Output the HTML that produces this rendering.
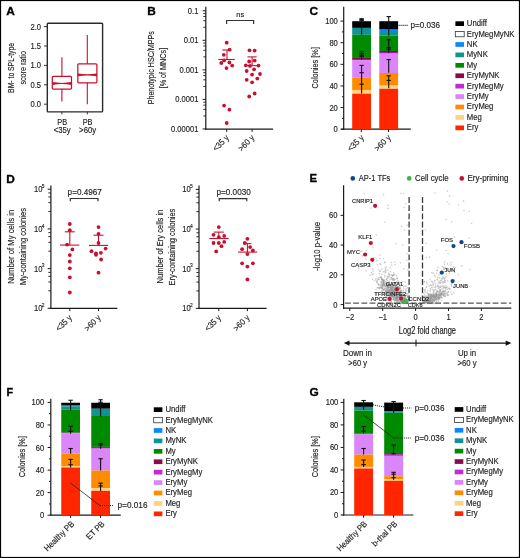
<!DOCTYPE html>
<html><head><meta charset="utf-8"><style>
html,body{margin:0;padding:0;background:#fff;}
svg{display:block;font-family:"Liberation Sans", sans-serif;will-change:transform;}
text{stroke:#222;stroke-width:0.15px;}
</style></head><body>
<svg width="520" height="558" viewBox="0 0 520 558">
<rect x="0" y="0" width="520" height="558" fill="#fff"/>
<text x="0" y="0" transform="translate(6.20 14.70) scale(1.1 1)" font-size="10.8" fill="#000" font-weight="bold" style="stroke:#000;stroke-width:0.3px">A</text>
<text x="0" y="0" transform="translate(147.30 14.70) scale(1.1 1)" font-size="10.8" fill="#000" font-weight="bold" style="stroke:#000;stroke-width:0.3px">B</text>
<text x="0" y="0" transform="translate(309.60 14.80) scale(1.1 1)" font-size="10.8" fill="#000" font-weight="bold" style="stroke:#000;stroke-width:0.3px">C</text>
<text x="0" y="0" transform="translate(6.30 183.20) scale(1.1 1)" font-size="10.8" fill="#000" font-weight="bold" style="stroke:#000;stroke-width:0.3px">D</text>
<text x="0" y="0" transform="translate(309.60 182.00) scale(1.05 1)" font-size="10.8" fill="#000" font-weight="bold" style="stroke:#000;stroke-width:0.3px">E</text>
<text x="0" y="0" transform="translate(6.60 396.00)" font-size="10.8" fill="#000" font-weight="bold" style="stroke:#000;stroke-width:0.3px">F</text>
<text x="0" y="0" transform="translate(309.60 396.10) scale(1.1 1)" font-size="10.8" fill="#000" font-weight="bold" style="stroke:#000;stroke-width:0.3px">G</text>
<rect x="47.3" y="23.3" width="55.3" height="88.6" rx="0.8" fill="none" stroke="#2a2a2a" stroke-width="1.4"/>
<line x1="44.00" y1="104.20" x2="47.30" y2="104.20" stroke="#333" stroke-width="1" />
<text x="0" y="0" transform="translate(41.00 107.20) scale(0.88 1)" font-size="8.6" fill="#222" text-anchor="end" >0.0</text>
<line x1="44.00" y1="84.80" x2="47.30" y2="84.80" stroke="#333" stroke-width="1" />
<text x="0" y="0" transform="translate(41.00 87.80) scale(0.88 1)" font-size="8.6" fill="#222" text-anchor="end" >0.5</text>
<line x1="44.00" y1="65.40" x2="47.30" y2="65.40" stroke="#333" stroke-width="1" />
<text x="0" y="0" transform="translate(41.00 68.40) scale(0.88 1)" font-size="8.6" fill="#222" text-anchor="end" >1.0</text>
<line x1="44.00" y1="46.00" x2="47.30" y2="46.00" stroke="#333" stroke-width="1" />
<text x="0" y="0" transform="translate(41.00 49.00) scale(0.88 1)" font-size="8.6" fill="#222" text-anchor="end" >1.5</text>
<line x1="44.00" y1="26.60" x2="47.30" y2="26.60" stroke="#333" stroke-width="1" />
<text x="0" y="0" transform="translate(41.00 29.60) scale(0.88 1)" font-size="8.6" fill="#222" text-anchor="end" >2.0</text>
<rect x="52.3" y="76.3" width="19.20" height="12.80" rx="1" fill="none" stroke="#c8102e" stroke-width="1.25"/>
<path d="M52.3,82.1 Q61.9,83.7 71.5,82.1 V84.9 Q61.9,83.3 52.3,84.9 Z" fill="#c8102e"/>
<line x1="61.90" y1="57.20" x2="61.90" y2="76.30" stroke="#c8102e" stroke-width="1.1" />
<line x1="61.90" y1="89.10" x2="61.90" y2="101.60" stroke="#c8102e" stroke-width="1.1" />
<rect x="77.8" y="63.8" width="19.10" height="19.00" rx="1" fill="none" stroke="#c8102e" stroke-width="1.25"/>
<path d="M77.8,73.5 Q87.35,75.10000000000001 96.9,73.5 V76.30000000000001 Q87.35,74.7 77.8,76.30000000000001 Z" fill="#c8102e"/>
<line x1="87.30" y1="35.00" x2="87.30" y2="63.80" stroke="#c8102e" stroke-width="1.1" />
<line x1="87.30" y1="82.80" x2="87.30" y2="104.20" stroke="#c8102e" stroke-width="1.1" />
<line x1="61.90" y1="111.90" x2="61.90" y2="114.40" stroke="#333" stroke-width="1" />
<line x1="87.30" y1="111.90" x2="87.30" y2="114.40" stroke="#333" stroke-width="1" />
<text x="0" y="0" transform="translate(62.20 124.60) scale(0.84 1)" font-size="8.8" fill="#222" text-anchor="middle" >PB</text>
<text x="0" y="0" transform="translate(87.60 124.60) scale(0.84 1)" font-size="8.8" fill="#222" text-anchor="middle" >PB</text>
<text x="0" y="0" transform="translate(62.20 133.30) scale(0.88 1)" font-size="8.8" fill="#222" text-anchor="middle" >&lt;35y</text>
<text x="0" y="0" transform="translate(87.60 133.30) scale(0.88 1)" font-size="8.8" fill="#222" text-anchor="middle" >&gt;60y</text>
<text x="0" y="0" transform="translate(14.10 67.90) rotate(-90)" font-size="8.8" fill="#222" text-anchor="middle" textLength="50.00" lengthAdjust="spacingAndGlyphs" >BM- to SPL-type</text>
<text x="0" y="0" transform="translate(25.90 67.80) rotate(-90)" font-size="8.8" fill="#222" text-anchor="middle" textLength="33.50" lengthAdjust="spacingAndGlyphs" >score ratio</text>
<line x1="205.80" y1="6.70" x2="205.80" y2="129.70" stroke="#1a1a1a" stroke-width="1.2" />
<line x1="205.20" y1="129.10" x2="273.10" y2="129.10" stroke="#1a1a1a" stroke-width="1.2" />
<line x1="202.60" y1="10.75" x2="205.80" y2="10.75" stroke="#1a1a1a" stroke-width="1" />
<text x="0" y="0" transform="translate(198.40 13.75) scale(0.88 1)" font-size="8.6" fill="#222" text-anchor="end" >0.1</text>
<line x1="202.60" y1="40.30" x2="205.80" y2="40.30" stroke="#1a1a1a" stroke-width="1" />
<text x="0" y="0" transform="translate(198.40 43.30) scale(0.88 1)" font-size="8.6" fill="#222" text-anchor="end" >0.01</text>
<line x1="202.60" y1="69.85" x2="205.80" y2="69.85" stroke="#1a1a1a" stroke-width="1" />
<text x="0" y="0" transform="translate(198.40 72.85) scale(0.88 1)" font-size="8.6" fill="#222" text-anchor="end" >0.001</text>
<line x1="202.60" y1="99.40" x2="205.80" y2="99.40" stroke="#1a1a1a" stroke-width="1" />
<text x="0" y="0" transform="translate(198.40 102.40) scale(0.88 1)" font-size="8.6" fill="#222" text-anchor="end" >0.0001</text>
<line x1="202.60" y1="128.95" x2="205.80" y2="128.95" stroke="#1a1a1a" stroke-width="1" />
<text x="0" y="0" transform="translate(198.40 131.95) scale(0.88 1)" font-size="8.6" fill="#222" text-anchor="end" >0.00001</text>
<line x1="203.30" y1="13.56" x2="205.80" y2="13.56" stroke="#1a1a1a" stroke-width="0.9" />
<line x1="203.30" y1="16.48" x2="205.80" y2="16.48" stroke="#1a1a1a" stroke-width="0.9" />
<line x1="203.30" y1="20.74" x2="205.80" y2="20.74" stroke="#1a1a1a" stroke-width="0.9" />
<line x1="203.30" y1="27.30" x2="205.80" y2="27.30" stroke="#1a1a1a" stroke-width="0.9" />
<line x1="203.30" y1="43.11" x2="205.80" y2="43.11" stroke="#1a1a1a" stroke-width="0.9" />
<line x1="203.30" y1="46.03" x2="205.80" y2="46.03" stroke="#1a1a1a" stroke-width="0.9" />
<line x1="203.30" y1="50.29" x2="205.80" y2="50.29" stroke="#1a1a1a" stroke-width="0.9" />
<line x1="203.30" y1="56.85" x2="205.80" y2="56.85" stroke="#1a1a1a" stroke-width="0.9" />
<line x1="203.30" y1="72.66" x2="205.80" y2="72.66" stroke="#1a1a1a" stroke-width="0.9" />
<line x1="203.30" y1="75.58" x2="205.80" y2="75.58" stroke="#1a1a1a" stroke-width="0.9" />
<line x1="203.30" y1="79.84" x2="205.80" y2="79.84" stroke="#1a1a1a" stroke-width="0.9" />
<line x1="203.30" y1="86.40" x2="205.80" y2="86.40" stroke="#1a1a1a" stroke-width="0.9" />
<line x1="203.30" y1="102.21" x2="205.80" y2="102.21" stroke="#1a1a1a" stroke-width="0.9" />
<line x1="203.30" y1="105.13" x2="205.80" y2="105.13" stroke="#1a1a1a" stroke-width="0.9" />
<line x1="203.30" y1="109.39" x2="205.80" y2="109.39" stroke="#1a1a1a" stroke-width="0.9" />
<line x1="203.30" y1="115.95" x2="205.80" y2="115.95" stroke="#1a1a1a" stroke-width="0.9" />
<circle cx="226.70" cy="42.70" r="1.9" fill="#c8102e"/>
<circle cx="229.60" cy="49.65" r="1.9" fill="#c8102e"/>
<circle cx="223.80" cy="54.85" r="1.9" fill="#c8102e"/>
<circle cx="224.10" cy="60.40" r="1.9" fill="#c8102e"/>
<circle cx="221.30" cy="63.00" r="1.9" fill="#c8102e"/>
<circle cx="229.40" cy="62.50" r="1.9" fill="#c8102e"/>
<circle cx="232.20" cy="65.60" r="1.9" fill="#c8102e"/>
<circle cx="226.50" cy="68.10" r="1.9" fill="#c8102e"/>
<circle cx="224.10" cy="105.60" r="1.9" fill="#c8102e"/>
<circle cx="229.40" cy="109.65" r="1.9" fill="#c8102e"/>
<circle cx="226.70" cy="123.00" r="1.9" fill="#c8102e"/>
<circle cx="249.50" cy="50.30" r="1.9" fill="#c8102e"/>
<circle cx="254.65" cy="50.60" r="1.9" fill="#c8102e"/>
<circle cx="249.20" cy="61.50" r="1.9" fill="#c8102e"/>
<circle cx="254.65" cy="60.60" r="1.9" fill="#c8102e"/>
<circle cx="245.80" cy="65.30" r="1.9" fill="#c8102e"/>
<circle cx="250.00" cy="65.90" r="1.9" fill="#c8102e"/>
<circle cx="258.50" cy="65.60" r="1.9" fill="#c8102e"/>
<circle cx="254.10" cy="69.30" r="1.9" fill="#c8102e"/>
<circle cx="246.70" cy="71.00" r="1.9" fill="#c8102e"/>
<circle cx="252.10" cy="74.60" r="1.9" fill="#c8102e"/>
<circle cx="260.00" cy="74.00" r="1.9" fill="#c8102e"/>
<circle cx="246.70" cy="79.80" r="1.9" fill="#c8102e"/>
<circle cx="257.30" cy="78.60" r="1.9" fill="#c8102e"/>
<circle cx="252.10" cy="82.30" r="1.9" fill="#c8102e"/>
<circle cx="254.65" cy="93.50" r="1.9" fill="#c8102e"/>
<circle cx="249.20" cy="96.50" r="1.9" fill="#c8102e"/>
<line x1="218.30" y1="59.50" x2="234.80" y2="59.50" stroke="#c8102e" stroke-width="1.1" />
<line x1="227.00" y1="50.00" x2="227.00" y2="59.50" stroke="#c8102e" stroke-width="1.1" />
<line x1="222.30" y1="50.00" x2="231.30" y2="50.00" stroke="#c8102e" stroke-width="1.1" />
<line x1="247.20" y1="65.60" x2="258.20" y2="65.60" stroke="#c8102e" stroke-width="1.1" />
<line x1="252.10" y1="56.90" x2="252.10" y2="65.60" stroke="#c8102e" stroke-width="1.1" />
<line x1="247.50" y1="56.90" x2="256.70" y2="56.90" stroke="#c8102e" stroke-width="1.1" />
<path d="M226.6,24 V20.5 H253.6 V24" fill="none" stroke="#333" stroke-width="1.2"/>
<text x="0" y="0" transform="translate(240.20 16.90) scale(0.95 1)" font-size="7.9" fill="#222" text-anchor="middle" >ns</text>
<line x1="226.70" y1="129.10" x2="226.70" y2="131.90" stroke="#1a1a1a" stroke-width="1" />
<line x1="252.10" y1="129.10" x2="252.10" y2="131.90" stroke="#1a1a1a" stroke-width="1" />
<text x="0" y="0" transform="translate(229.60 138.30) rotate(-45) scale(0.9 1)" font-size="8.6" fill="#222" text-anchor="end" >&lt;35 y</text>
<text x="0" y="0" transform="translate(255.00 138.30) rotate(-45) scale(0.9 1)" font-size="8.6" fill="#222" text-anchor="end" >&gt;60 y</text>
<text x="0" y="0" transform="translate(154.00 67.80) rotate(-90)" font-size="8.8" fill="#222" text-anchor="middle" textLength="73.00" lengthAdjust="spacingAndGlyphs" >Phenotypic HSC/MPPs</text>
<text x="0" y="0" transform="translate(165.80 68.10) rotate(-90)" font-size="8.8" fill="#222" text-anchor="middle" textLength="40.50" lengthAdjust="spacingAndGlyphs" >[% of MNCs]</text>
<line x1="343.70" y1="6.70" x2="343.70" y2="129.80" stroke="#1a1a1a" stroke-width="1.2" />
<line x1="341.30" y1="129.20" x2="410.80" y2="129.20" stroke="#1a1a1a" stroke-width="1.2" />
<line x1="340.50" y1="129.20" x2="343.70" y2="129.20" stroke="#1a1a1a" stroke-width="1" />
<text x="0" y="0" transform="translate(337.80 132.20) scale(0.88 1)" font-size="8.6" fill="#222" text-anchor="end" >0</text>
<line x1="341.90" y1="118.39" x2="343.70" y2="118.39" stroke="#1a1a1a" stroke-width="1" />
<line x1="340.50" y1="107.58" x2="343.70" y2="107.58" stroke="#1a1a1a" stroke-width="1" />
<text x="0" y="0" transform="translate(337.80 110.58) scale(0.88 1)" font-size="8.6" fill="#222" text-anchor="end" >20</text>
<line x1="341.90" y1="96.77" x2="343.70" y2="96.77" stroke="#1a1a1a" stroke-width="1" />
<line x1="340.50" y1="85.96" x2="343.70" y2="85.96" stroke="#1a1a1a" stroke-width="1" />
<text x="0" y="0" transform="translate(337.80 88.96) scale(0.88 1)" font-size="8.6" fill="#222" text-anchor="end" >40</text>
<line x1="341.90" y1="75.15" x2="343.70" y2="75.15" stroke="#1a1a1a" stroke-width="1" />
<line x1="340.50" y1="64.34" x2="343.70" y2="64.34" stroke="#1a1a1a" stroke-width="1" />
<text x="0" y="0" transform="translate(337.80 67.34) scale(0.88 1)" font-size="8.6" fill="#222" text-anchor="end" >60</text>
<line x1="341.90" y1="53.53" x2="343.70" y2="53.53" stroke="#1a1a1a" stroke-width="1" />
<line x1="340.50" y1="42.72" x2="343.70" y2="42.72" stroke="#1a1a1a" stroke-width="1" />
<text x="0" y="0" transform="translate(337.80 45.72) scale(0.88 1)" font-size="8.6" fill="#222" text-anchor="end" >80</text>
<line x1="341.90" y1="31.91" x2="343.70" y2="31.91" stroke="#1a1a1a" stroke-width="1" />
<line x1="340.50" y1="21.10" x2="343.70" y2="21.10" stroke="#1a1a1a" stroke-width="1" />
<text x="0" y="0" transform="translate(337.80 24.10) scale(0.88 1)" font-size="8.6" fill="#222" text-anchor="end" >100</text>
<rect x="352.20" y="21.20" width="18.80" height="6.70" fill="#000000" />
<rect x="352.20" y="27.90" width="18.80" height="6.90" fill="#0f9393" />
<rect x="352.20" y="34.80" width="18.80" height="23.10" fill="#008a00" />
<rect x="352.20" y="57.80" width="18.80" height="1.20" fill="#8b0a4f" />
<rect x="352.20" y="59.00" width="18.80" height="1.40" fill="#b010b8" />
<rect x="352.20" y="60.40" width="18.80" height="16.90" fill="#da85f8" />
<rect x="352.20" y="77.30" width="18.80" height="12.70" fill="#ff8c00" />
<rect x="352.20" y="90.00" width="18.80" height="3.70" fill="#ffd27f" />
<rect x="352.20" y="93.70" width="18.80" height="35.50" fill="#ff2600" />
<rect x="379.30" y="21.20" width="18.80" height="8.20" fill="#000000" />
<rect x="379.30" y="29.40" width="18.80" height="0.60" fill="#444" />
<rect x="379.30" y="30.00" width="18.80" height="1.00" fill="#0d87ff" />
<rect x="379.30" y="31.00" width="18.80" height="4.60" fill="#0f9393" />
<rect x="379.30" y="35.60" width="18.80" height="15.40" fill="#008a00" />
<rect x="379.30" y="51.00" width="18.80" height="1.00" fill="#8b0a4f" />
<rect x="379.30" y="52.00" width="18.80" height="1.60" fill="#b010b8" />
<rect x="379.30" y="53.60" width="18.80" height="19.40" fill="#da85f8" />
<rect x="379.30" y="73.00" width="18.80" height="12.60" fill="#ff8c00" />
<rect x="379.30" y="85.60" width="18.80" height="3.20" fill="#ffd27f" />
<rect x="379.30" y="88.80" width="18.80" height="40.40" fill="#ff2600" />
<line x1="361.60" y1="18.70" x2="361.60" y2="34.80" stroke="#111" stroke-width="1.1" />
<line x1="359.40" y1="18.70" x2="363.80" y2="18.70" stroke="#111" stroke-width="1.1" />
<line x1="359.40" y1="19.60" x2="363.80" y2="19.60" stroke="#111" stroke-width="1.1" />
<line x1="359.40" y1="20.40" x2="363.80" y2="20.40" stroke="#111" stroke-width="1.1" />
<line x1="361.60" y1="51.50" x2="361.60" y2="59.80" stroke="#111" stroke-width="1.1" />
<line x1="359.40" y1="51.50" x2="363.80" y2="51.50" stroke="#111" stroke-width="1.1" />
<line x1="359.40" y1="53.60" x2="363.80" y2="53.60" stroke="#111" stroke-width="1.1" />
<line x1="359.40" y1="55.30" x2="363.80" y2="55.30" stroke="#111" stroke-width="1.1" />
<line x1="359.40" y1="56.70" x2="363.80" y2="56.70" stroke="#111" stroke-width="1.1" />
<line x1="361.60" y1="65.40" x2="361.60" y2="93.50" stroke="#111" stroke-width="1.1" />
<line x1="359.40" y1="65.40" x2="363.80" y2="65.40" stroke="#111" stroke-width="1.1" />
<line x1="359.40" y1="72.70" x2="363.80" y2="72.70" stroke="#111" stroke-width="1.1" />
<line x1="359.40" y1="84.20" x2="363.80" y2="84.20" stroke="#111" stroke-width="1.1" />
<line x1="388.70" y1="16.60" x2="388.70" y2="35.60" stroke="#111" stroke-width="1.1" />
<line x1="386.50" y1="16.60" x2="390.90" y2="16.60" stroke="#111" stroke-width="1.1" />
<line x1="388.70" y1="39.80" x2="388.70" y2="52.70" stroke="#111" stroke-width="1.1" />
<line x1="386.50" y1="39.80" x2="390.90" y2="39.80" stroke="#111" stroke-width="1.1" />
<line x1="386.50" y1="47.50" x2="390.90" y2="47.50" stroke="#111" stroke-width="1.1" />
<line x1="386.50" y1="49.20" x2="390.90" y2="49.20" stroke="#111" stroke-width="1.1" />
<line x1="388.70" y1="59.60" x2="388.70" y2="72.70" stroke="#111" stroke-width="1.1" />
<line x1="386.50" y1="59.60" x2="390.90" y2="59.60" stroke="#111" stroke-width="1.1" />
<line x1="388.70" y1="75.80" x2="388.70" y2="88.30" stroke="#111" stroke-width="1.1" />
<line x1="386.50" y1="75.80" x2="390.90" y2="75.80" stroke="#111" stroke-width="1.1" />
<line x1="386.50" y1="80.40" x2="390.90" y2="80.40" stroke="#111" stroke-width="1.1" />
<line x1="361.30" y1="129.20" x2="361.30" y2="132.00" stroke="#1a1a1a" stroke-width="1" />
<line x1="388.50" y1="129.20" x2="388.50" y2="132.00" stroke="#1a1a1a" stroke-width="1" />
<line x1="398.60" y1="25.40" x2="408.40" y2="25.40" stroke="#1a1a1a" stroke-width="1.1" stroke-dasharray="1,1"/>
<text x="0" y="0" transform="translate(410.40 28.30)" font-size="8.8" fill="#222" textLength="29.60" lengthAdjust="spacingAndGlyphs" >p=0.036</text>
<rect x="455.40" y="21.30" width="8.60" height="4.70" fill="#000000" />
<text x="0" y="0" transform="translate(466.80 26.10) scale(0.92 1)" font-size="8.4" fill="#222" >Undiff</text>
<rect x="455.30" y="31.57" width="8.9" height="5.2" fill="#fff" stroke="#333" stroke-width="0.8"/>
<text x="0" y="0" transform="translate(466.80 36.52) scale(0.92 1)" font-size="8.4" fill="#222" >EryMegMyNK</text>
<rect x="455.40" y="42.14" width="8.60" height="4.70" fill="#0d87ff" />
<text x="0" y="0" transform="translate(466.80 46.94) scale(0.92 1)" font-size="8.4" fill="#222" >NK</text>
<rect x="455.40" y="52.56" width="8.60" height="4.70" fill="#0f9393" />
<text x="0" y="0" transform="translate(466.80 57.36) scale(0.92 1)" font-size="8.4" fill="#222" >MyNK</text>
<rect x="455.40" y="62.98" width="8.60" height="4.70" fill="#008a00" />
<text x="0" y="0" transform="translate(466.80 67.78) scale(0.92 1)" font-size="8.4" fill="#222" >My</text>
<rect x="455.40" y="73.40" width="8.60" height="4.70" fill="#8b0a4f" />
<text x="0" y="0" transform="translate(466.80 78.20) scale(0.92 1)" font-size="8.4" fill="#222" >EryMyNK</text>
<rect x="455.40" y="83.82" width="8.60" height="4.70" fill="#c42ad4" />
<text x="0" y="0" transform="translate(466.80 88.62) scale(0.92 1)" font-size="8.4" fill="#222" >EryMegMy</text>
<rect x="455.40" y="94.24" width="8.60" height="4.70" fill="#da85f8" />
<text x="0" y="0" transform="translate(466.80 99.04) scale(0.92 1)" font-size="8.4" fill="#222" >EryMy</text>
<rect x="455.40" y="104.66" width="8.60" height="4.70" fill="#ff8c00" />
<text x="0" y="0" transform="translate(466.80 109.46) scale(0.92 1)" font-size="8.4" fill="#222" >EryMeg</text>
<rect x="455.40" y="115.08" width="8.60" height="4.70" fill="#ffd27f" />
<text x="0" y="0" transform="translate(466.80 119.88) scale(0.92 1)" font-size="8.4" fill="#222" >Meg</text>
<rect x="455.40" y="125.50" width="8.60" height="4.70" fill="#ff2600" />
<text x="0" y="0" transform="translate(466.80 130.30) scale(0.92 1)" font-size="8.4" fill="#222" >Ery</text>
<text x="0" y="0" transform="translate(317.60 67.80) rotate(-90)" font-size="9.2" fill="#222" text-anchor="middle" textLength="41.50" lengthAdjust="spacingAndGlyphs" >Colonies [%]</text>
<text x="0" y="0" transform="translate(364.40 138.30) rotate(-45) scale(0.9 1)" font-size="8.6" fill="#222" text-anchor="end" >&lt;35 y</text>
<text x="0" y="0" transform="translate(391.40 138.30) rotate(-45) scale(0.9 1)" font-size="8.6" fill="#222" text-anchor="end" >&gt;60 y</text>
<line x1="50.90" y1="185.50" x2="50.90" y2="308.90" stroke="#1a1a1a" stroke-width="1.2" />
<line x1="50.30" y1="308.30" x2="117.30" y2="308.30" stroke="#1a1a1a" stroke-width="1.2" />
<line x1="47.70" y1="308.30" x2="50.90" y2="308.30" stroke="#1a1a1a" stroke-width="1" />
<text x="0" y="0" transform="translate(42.50 311.30) scale(0.88 1)" font-size="8.6" fill="#222" text-anchor="end" >10</text>
<text x="0" y="0" transform="translate(41.80 307.00) scale(0.88 1)" font-size="5.6" fill="#222" >2</text>
<line x1="47.70" y1="268.60" x2="50.90" y2="268.60" stroke="#1a1a1a" stroke-width="1" />
<text x="0" y="0" transform="translate(42.50 271.60) scale(0.88 1)" font-size="8.6" fill="#222" text-anchor="end" >10</text>
<text x="0" y="0" transform="translate(41.80 267.30) scale(0.88 1)" font-size="5.6" fill="#222" >3</text>
<line x1="47.70" y1="228.90" x2="50.90" y2="228.90" stroke="#1a1a1a" stroke-width="1" />
<text x="0" y="0" transform="translate(42.50 231.90) scale(0.88 1)" font-size="8.6" fill="#222" text-anchor="end" >10</text>
<text x="0" y="0" transform="translate(41.80 227.60) scale(0.88 1)" font-size="5.6" fill="#222" >4</text>
<line x1="47.70" y1="189.20" x2="50.90" y2="189.20" stroke="#1a1a1a" stroke-width="1" />
<text x="0" y="0" transform="translate(42.50 192.20) scale(0.88 1)" font-size="8.6" fill="#222" text-anchor="end" >10</text>
<text x="0" y="0" transform="translate(41.80 187.90) scale(0.88 1)" font-size="5.6" fill="#222" >5</text>
<line x1="48.30" y1="272.37" x2="50.90" y2="272.37" stroke="#1a1a1a" stroke-width="0.9" />
<line x1="48.30" y1="276.30" x2="50.90" y2="276.30" stroke="#1a1a1a" stroke-width="0.9" />
<line x1="48.30" y1="282.02" x2="50.90" y2="282.02" stroke="#1a1a1a" stroke-width="0.9" />
<line x1="48.30" y1="290.83" x2="50.90" y2="290.83" stroke="#1a1a1a" stroke-width="0.9" />
<line x1="48.30" y1="232.67" x2="50.90" y2="232.67" stroke="#1a1a1a" stroke-width="0.9" />
<line x1="48.30" y1="236.60" x2="50.90" y2="236.60" stroke="#1a1a1a" stroke-width="0.9" />
<line x1="48.30" y1="242.32" x2="50.90" y2="242.32" stroke="#1a1a1a" stroke-width="0.9" />
<line x1="48.30" y1="251.13" x2="50.90" y2="251.13" stroke="#1a1a1a" stroke-width="0.9" />
<line x1="48.30" y1="192.97" x2="50.90" y2="192.97" stroke="#1a1a1a" stroke-width="0.9" />
<line x1="48.30" y1="196.90" x2="50.90" y2="196.90" stroke="#1a1a1a" stroke-width="0.9" />
<line x1="48.30" y1="202.62" x2="50.90" y2="202.62" stroke="#1a1a1a" stroke-width="0.9" />
<line x1="48.30" y1="211.43" x2="50.90" y2="211.43" stroke="#1a1a1a" stroke-width="0.9" />
<circle cx="69.80" cy="224.00" r="1.9" fill="#c8102e"/>
<circle cx="69.80" cy="230.20" r="1.9" fill="#c8102e"/>
<circle cx="67.10" cy="244.60" r="1.9" fill="#c8102e"/>
<circle cx="72.40" cy="249.40" r="1.9" fill="#c8102e"/>
<circle cx="69.80" cy="255.10" r="1.9" fill="#c8102e"/>
<circle cx="69.80" cy="261.50" r="1.9" fill="#c8102e"/>
<circle cx="69.80" cy="268.30" r="1.9" fill="#c8102e"/>
<circle cx="69.80" cy="277.30" r="1.9" fill="#c8102e"/>
<circle cx="69.80" cy="292.50" r="1.9" fill="#c8102e"/>
<circle cx="98.50" cy="227.10" r="1.9" fill="#c8102e"/>
<circle cx="98.50" cy="233.80" r="1.9" fill="#c8102e"/>
<circle cx="98.50" cy="243.00" r="1.9" fill="#c8102e"/>
<circle cx="105.60" cy="248.60" r="1.9" fill="#c8102e"/>
<circle cx="91.50" cy="251.20" r="1.9" fill="#c8102e"/>
<circle cx="96.00" cy="253.50" r="1.9" fill="#c8102e"/>
<circle cx="96.00" cy="254.80" r="1.9" fill="#c8102e"/>
<circle cx="100.90" cy="252.80" r="1.9" fill="#c8102e"/>
<circle cx="101.10" cy="259.50" r="1.9" fill="#c8102e"/>
<circle cx="98.50" cy="272.70" r="1.9" fill="#c8102e"/>
<line x1="60.10" y1="245.10" x2="79.30" y2="245.10" stroke="#c8102e" stroke-width="1.1" />
<line x1="89.00" y1="245.40" x2="108.10" y2="245.40" stroke="#c8102e" stroke-width="1.1" />
<line x1="69.80" y1="231.80" x2="69.80" y2="245.10" stroke="#c8102e" stroke-width="1.1" />
<line x1="64.80" y1="231.80" x2="74.80" y2="231.80" stroke="#c8102e" stroke-width="1.1" />
<line x1="98.50" y1="235.20" x2="98.50" y2="245.40" stroke="#c8102e" stroke-width="1.1" />
<line x1="93.50" y1="235.20" x2="103.50" y2="235.20" stroke="#c8102e" stroke-width="1.1" />
<path d="M70.3,201.2 V198.5 H98 V201.2" fill="none" stroke="#333" stroke-width="1.2"/>
<text x="0" y="0" transform="translate(84.75 195.20)" font-size="8.8" fill="#222" text-anchor="middle" textLength="34.30" lengthAdjust="spacingAndGlyphs" >p=0.4967</text>
<line x1="69.80" y1="308.30" x2="69.80" y2="311.10" stroke="#1a1a1a" stroke-width="1" />
<line x1="98.50" y1="308.30" x2="98.50" y2="311.10" stroke="#1a1a1a" stroke-width="1" />
<text x="0" y="0" transform="translate(72.60 318.20) rotate(-45) scale(0.9 1)" font-size="8.6" fill="#222" text-anchor="end" >&lt;35 y</text>
<text x="0" y="0" transform="translate(101.30 318.20) rotate(-45) scale(0.9 1)" font-size="8.6" fill="#222" text-anchor="end" >&gt;60 y</text>
<text x="0" y="0" transform="translate(14.40 246.80) rotate(-90)" font-size="9.0" fill="#222" text-anchor="middle" textLength="74.00" lengthAdjust="spacingAndGlyphs" >Number of My cells in</text>
<text x="0" y="0" transform="translate(26.00 246.50) rotate(-90)" font-size="9.0" fill="#222" text-anchor="middle" textLength="77.00" lengthAdjust="spacingAndGlyphs" >My-containing colonies</text>
<line x1="199.00" y1="185.50" x2="199.00" y2="308.95" stroke="#1a1a1a" stroke-width="1.2" />
<line x1="198.40" y1="308.35" x2="266.60" y2="308.35" stroke="#1a1a1a" stroke-width="1.2" />
<line x1="195.80" y1="308.35" x2="199.00" y2="308.35" stroke="#1a1a1a" stroke-width="1" />
<text x="0" y="0" transform="translate(190.60 311.35) scale(0.88 1)" font-size="8.6" fill="#222" text-anchor="end" >10</text>
<text x="0" y="0" transform="translate(189.90 307.05) scale(0.88 1)" font-size="5.6" fill="#222" >2</text>
<line x1="195.80" y1="268.70" x2="199.00" y2="268.70" stroke="#1a1a1a" stroke-width="1" />
<text x="0" y="0" transform="translate(190.60 271.70) scale(0.88 1)" font-size="8.6" fill="#222" text-anchor="end" >10</text>
<text x="0" y="0" transform="translate(189.90 267.40) scale(0.88 1)" font-size="5.6" fill="#222" >3</text>
<line x1="195.80" y1="229.05" x2="199.00" y2="229.05" stroke="#1a1a1a" stroke-width="1" />
<text x="0" y="0" transform="translate(190.60 232.05) scale(0.88 1)" font-size="8.6" fill="#222" text-anchor="end" >10</text>
<text x="0" y="0" transform="translate(189.90 227.75) scale(0.88 1)" font-size="5.6" fill="#222" >4</text>
<line x1="195.80" y1="189.40" x2="199.00" y2="189.40" stroke="#1a1a1a" stroke-width="1" />
<text x="0" y="0" transform="translate(190.60 192.40) scale(0.88 1)" font-size="8.6" fill="#222" text-anchor="end" >10</text>
<text x="0" y="0" transform="translate(189.90 188.10) scale(0.88 1)" font-size="5.6" fill="#222" >5</text>
<line x1="196.40" y1="272.47" x2="199.00" y2="272.47" stroke="#1a1a1a" stroke-width="0.9" />
<line x1="196.40" y1="276.39" x2="199.00" y2="276.39" stroke="#1a1a1a" stroke-width="0.9" />
<line x1="196.40" y1="282.10" x2="199.00" y2="282.10" stroke="#1a1a1a" stroke-width="0.9" />
<line x1="196.40" y1="290.90" x2="199.00" y2="290.90" stroke="#1a1a1a" stroke-width="0.9" />
<line x1="196.40" y1="232.82" x2="199.00" y2="232.82" stroke="#1a1a1a" stroke-width="0.9" />
<line x1="196.40" y1="236.74" x2="199.00" y2="236.74" stroke="#1a1a1a" stroke-width="0.9" />
<line x1="196.40" y1="242.45" x2="199.00" y2="242.45" stroke="#1a1a1a" stroke-width="0.9" />
<line x1="196.40" y1="251.25" x2="199.00" y2="251.25" stroke="#1a1a1a" stroke-width="0.9" />
<line x1="196.40" y1="193.17" x2="199.00" y2="193.17" stroke="#1a1a1a" stroke-width="0.9" />
<line x1="196.40" y1="197.09" x2="199.00" y2="197.09" stroke="#1a1a1a" stroke-width="0.9" />
<line x1="196.40" y1="202.80" x2="199.00" y2="202.80" stroke="#1a1a1a" stroke-width="0.9" />
<line x1="196.40" y1="211.60" x2="199.00" y2="211.60" stroke="#1a1a1a" stroke-width="0.9" />
<circle cx="218.80" cy="227.10" r="1.9" fill="#c8102e"/>
<circle cx="213.50" cy="234.80" r="1.9" fill="#c8102e"/>
<circle cx="218.80" cy="237.20" r="1.9" fill="#c8102e"/>
<circle cx="224.20" cy="235.90" r="1.9" fill="#c8102e"/>
<circle cx="213.50" cy="243.00" r="1.9" fill="#c8102e"/>
<circle cx="218.80" cy="243.00" r="1.9" fill="#c8102e"/>
<circle cx="224.20" cy="241.90" r="1.9" fill="#c8102e"/>
<circle cx="221.50" cy="246.20" r="1.9" fill="#c8102e"/>
<circle cx="216.20" cy="251.40" r="1.9" fill="#c8102e"/>
<circle cx="247.40" cy="238.80" r="1.9" fill="#c8102e"/>
<circle cx="244.80" cy="243.00" r="1.9" fill="#c8102e"/>
<circle cx="250.10" cy="247.10" r="1.9" fill="#c8102e"/>
<circle cx="242.10" cy="249.20" r="1.9" fill="#c8102e"/>
<circle cx="252.90" cy="250.40" r="1.9" fill="#c8102e"/>
<circle cx="247.40" cy="254.10" r="1.9" fill="#c8102e"/>
<circle cx="242.10" cy="263.30" r="1.9" fill="#c8102e"/>
<circle cx="252.90" cy="263.30" r="1.9" fill="#c8102e"/>
<circle cx="247.40" cy="266.60" r="1.9" fill="#c8102e"/>
<circle cx="247.40" cy="279.40" r="1.9" fill="#c8102e"/>
<line x1="209.20" y1="238.50" x2="228.70" y2="238.50" stroke="#c8102e" stroke-width="1.1" />
<line x1="238.10" y1="252.10" x2="257.20" y2="252.10" stroke="#c8102e" stroke-width="1.1" />
<line x1="218.80" y1="232.10" x2="218.80" y2="238.50" stroke="#c8102e" stroke-width="1.1" />
<line x1="213.80" y1="232.10" x2="223.80" y2="232.10" stroke="#c8102e" stroke-width="1.1" />
<line x1="247.40" y1="243.60" x2="247.40" y2="252.10" stroke="#c8102e" stroke-width="1.1" />
<line x1="243.40" y1="243.60" x2="251.40" y2="243.60" stroke="#c8102e" stroke-width="1.1" />
<path d="M219.2,201.29999999999998 V198.6 H246.8 V201.29999999999998" fill="none" stroke="#333" stroke-width="1.2"/>
<text x="0" y="0" transform="translate(233.60 195.20)" font-size="8.8" fill="#222" text-anchor="middle" textLength="34.30" lengthAdjust="spacingAndGlyphs" >p=0.0030</text>
<line x1="218.80" y1="308.35" x2="218.80" y2="311.15" stroke="#1a1a1a" stroke-width="1" />
<line x1="247.40" y1="308.35" x2="247.40" y2="311.15" stroke="#1a1a1a" stroke-width="1" />
<text x="0" y="0" transform="translate(221.60 318.25) rotate(-45) scale(0.9 1)" font-size="8.6" fill="#222" text-anchor="end" >&lt;35 y</text>
<text x="0" y="0" transform="translate(250.20 318.25) rotate(-45) scale(0.9 1)" font-size="8.6" fill="#222" text-anchor="end" >&gt;60 y</text>
<text x="0" y="0" transform="translate(163.40 246.60) rotate(-90)" font-size="9.0" fill="#222" text-anchor="middle" textLength="73.80" lengthAdjust="spacingAndGlyphs" >Number of Ery cells in</text>
<text x="0" y="0" transform="translate(175.20 247.10) rotate(-90)" font-size="9.0" fill="#222" text-anchor="middle" textLength="76.80" lengthAdjust="spacingAndGlyphs" >Ery-containing colonies</text>
<g fill="#9a9a9a" fill-opacity="0.5">
<circle cx="385.5" cy="288.0" r="0.8"/>
<circle cx="404.9" cy="299.2" r="0.8"/>
<circle cx="385.7" cy="286.1" r="0.8"/>
<circle cx="397.4" cy="300.5" r="0.8"/>
<circle cx="389.2" cy="283.4" r="0.8"/>
<circle cx="400.5" cy="300.2" r="0.8"/>
<circle cx="395.8" cy="293.1" r="0.8"/>
<circle cx="392.3" cy="286.5" r="0.8"/>
<circle cx="396.4" cy="295.5" r="0.8"/>
<circle cx="393.4" cy="292.2" r="0.8"/>
<circle cx="396.7" cy="298.1" r="0.8"/>
<circle cx="404.2" cy="301.8" r="0.8"/>
<circle cx="380.4" cy="285.4" r="0.8"/>
<circle cx="385.2" cy="285.3" r="0.8"/>
<circle cx="384.4" cy="285.4" r="0.8"/>
<circle cx="389.4" cy="290.3" r="0.8"/>
<circle cx="405.5" cy="296.0" r="0.8"/>
<circle cx="392.3" cy="294.6" r="0.8"/>
<circle cx="394.5" cy="295.0" r="0.8"/>
<circle cx="399.0" cy="292.4" r="0.8"/>
<circle cx="402.2" cy="295.7" r="0.8"/>
<circle cx="401.4" cy="298.7" r="0.8"/>
<circle cx="404.8" cy="298.7" r="0.8"/>
<circle cx="404.1" cy="300.3" r="0.8"/>
<circle cx="398.8" cy="293.2" r="0.8"/>
<circle cx="401.0" cy="300.5" r="0.8"/>
<circle cx="399.3" cy="299.3" r="0.8"/>
<circle cx="397.8" cy="296.8" r="0.8"/>
<circle cx="398.7" cy="294.0" r="0.8"/>
<circle cx="388.9" cy="287.2" r="0.8"/>
<circle cx="397.4" cy="302.3" r="0.8"/>
<circle cx="401.4" cy="303.4" r="0.8"/>
<circle cx="400.6" cy="301.2" r="0.8"/>
<circle cx="395.8" cy="297.8" r="0.8"/>
<circle cx="386.3" cy="295.6" r="0.8"/>
<circle cx="395.8" cy="298.7" r="0.8"/>
<circle cx="405.3" cy="296.7" r="0.8"/>
<circle cx="395.8" cy="297.7" r="0.8"/>
<circle cx="398.9" cy="292.8" r="0.8"/>
<circle cx="394.3" cy="294.8" r="0.8"/>
<circle cx="403.3" cy="303.3" r="0.8"/>
<circle cx="393.5" cy="298.6" r="0.8"/>
<circle cx="388.3" cy="292.0" r="0.8"/>
<circle cx="405.4" cy="300.5" r="0.8"/>
<circle cx="383.8" cy="281.0" r="0.8"/>
<circle cx="396.7" cy="297.4" r="0.8"/>
<circle cx="394.6" cy="296.3" r="0.8"/>
<circle cx="399.9" cy="287.0" r="0.8"/>
<circle cx="405.9" cy="298.2" r="0.8"/>
<circle cx="392.3" cy="292.6" r="0.8"/>
<circle cx="393.5" cy="299.5" r="0.8"/>
<circle cx="391.3" cy="299.1" r="0.8"/>
<circle cx="391.6" cy="289.0" r="0.8"/>
<circle cx="398.6" cy="302.9" r="0.8"/>
<circle cx="400.5" cy="299.4" r="0.8"/>
<circle cx="383.2" cy="281.3" r="0.8"/>
<circle cx="392.3" cy="289.3" r="0.8"/>
<circle cx="401.3" cy="297.2" r="0.8"/>
<circle cx="402.0" cy="299.6" r="0.8"/>
<circle cx="393.1" cy="292.8" r="0.8"/>
<circle cx="397.5" cy="299.5" r="0.8"/>
<circle cx="392.7" cy="290.9" r="0.8"/>
<circle cx="381.8" cy="290.5" r="0.8"/>
<circle cx="407.8" cy="302.9" r="0.8"/>
<circle cx="394.9" cy="288.1" r="0.8"/>
<circle cx="396.9" cy="296.1" r="0.8"/>
<circle cx="395.1" cy="283.0" r="0.8"/>
<circle cx="382.9" cy="285.1" r="0.8"/>
<circle cx="375.8" cy="294.2" r="0.8"/>
<circle cx="403.6" cy="303.0" r="0.8"/>
<circle cx="399.2" cy="287.5" r="0.8"/>
<circle cx="398.4" cy="289.4" r="0.8"/>
<circle cx="405.3" cy="292.3" r="0.8"/>
<circle cx="386.2" cy="292.3" r="0.8"/>
<circle cx="382.0" cy="287.5" r="0.8"/>
<circle cx="404.8" cy="297.0" r="0.8"/>
<circle cx="392.0" cy="288.3" r="0.8"/>
<circle cx="388.1" cy="285.3" r="0.8"/>
<circle cx="397.1" cy="291.0" r="0.8"/>
<circle cx="397.9" cy="290.1" r="0.8"/>
<circle cx="380.5" cy="285.5" r="0.8"/>
<circle cx="406.0" cy="303.4" r="0.8"/>
<circle cx="390.2" cy="290.3" r="0.8"/>
<circle cx="395.4" cy="289.1" r="0.8"/>
<circle cx="385.9" cy="280.0" r="0.8"/>
<circle cx="395.6" cy="294.9" r="0.8"/>
<circle cx="389.2" cy="295.5" r="0.8"/>
<circle cx="396.2" cy="297.2" r="0.8"/>
<circle cx="407.4" cy="299.7" r="0.8"/>
<circle cx="378.9" cy="284.4" r="0.8"/>
<circle cx="387.8" cy="293.9" r="0.8"/>
<circle cx="396.5" cy="299.4" r="0.8"/>
<circle cx="406.5" cy="293.5" r="0.8"/>
<circle cx="403.1" cy="297.1" r="0.8"/>
<circle cx="391.0" cy="288.6" r="0.8"/>
<circle cx="400.1" cy="301.7" r="0.8"/>
<circle cx="407.5" cy="296.1" r="0.8"/>
<circle cx="396.5" cy="284.3" r="0.8"/>
<circle cx="393.9" cy="295.5" r="0.8"/>
<circle cx="389.5" cy="290.5" r="0.8"/>
<circle cx="395.7" cy="298.7" r="0.8"/>
<circle cx="391.3" cy="287.2" r="0.8"/>
<circle cx="386.2" cy="294.6" r="0.8"/>
<circle cx="404.9" cy="300.9" r="0.8"/>
<circle cx="397.5" cy="296.2" r="0.8"/>
<circle cx="398.0" cy="295.2" r="0.8"/>
<circle cx="396.1" cy="289.0" r="0.8"/>
<circle cx="387.4" cy="295.1" r="0.8"/>
<circle cx="400.1" cy="298.0" r="0.8"/>
<circle cx="394.2" cy="293.4" r="0.8"/>
<circle cx="400.2" cy="294.9" r="0.8"/>
<circle cx="397.0" cy="296.4" r="0.8"/>
<circle cx="391.8" cy="287.7" r="0.8"/>
<circle cx="390.4" cy="285.4" r="0.8"/>
<circle cx="408.1" cy="293.5" r="0.8"/>
<circle cx="395.2" cy="291.2" r="0.8"/>
<circle cx="390.9" cy="291.0" r="0.8"/>
<circle cx="404.7" cy="301.7" r="0.8"/>
<circle cx="396.2" cy="291.9" r="0.8"/>
<circle cx="393.0" cy="296.2" r="0.8"/>
<circle cx="395.4" cy="288.9" r="0.8"/>
<circle cx="388.4" cy="283.7" r="0.8"/>
<circle cx="382.7" cy="289.0" r="0.8"/>
<circle cx="399.3" cy="296.0" r="0.8"/>
<circle cx="400.2" cy="301.3" r="0.8"/>
<circle cx="387.2" cy="280.7" r="0.8"/>
<circle cx="386.7" cy="291.3" r="0.8"/>
<circle cx="405.1" cy="299.9" r="0.8"/>
<circle cx="394.1" cy="290.6" r="0.8"/>
<circle cx="397.4" cy="287.5" r="0.8"/>
<circle cx="390.8" cy="284.9" r="0.8"/>
<circle cx="395.4" cy="303.3" r="0.8"/>
<circle cx="383.3" cy="282.8" r="0.8"/>
<circle cx="384.3" cy="294.2" r="0.8"/>
<circle cx="402.1" cy="296.0" r="0.8"/>
<circle cx="402.2" cy="301.7" r="0.8"/>
<circle cx="384.3" cy="283.0" r="0.8"/>
<circle cx="394.1" cy="293.1" r="0.8"/>
<circle cx="397.8" cy="294.4" r="0.8"/>
<circle cx="398.8" cy="294.1" r="0.8"/>
<circle cx="385.7" cy="293.2" r="0.8"/>
<circle cx="397.9" cy="297.9" r="0.8"/>
<circle cx="383.8" cy="284.2" r="0.8"/>
<circle cx="405.2" cy="296.0" r="0.8"/>
<circle cx="405.5" cy="300.2" r="0.8"/>
<circle cx="399.5" cy="296.6" r="0.8"/>
<circle cx="395.1" cy="299.2" r="0.8"/>
<circle cx="389.4" cy="296.3" r="0.8"/>
<circle cx="391.8" cy="287.1" r="0.8"/>
<circle cx="403.9" cy="295.9" r="0.8"/>
<circle cx="391.1" cy="294.7" r="0.8"/>
<circle cx="395.9" cy="302.8" r="0.8"/>
<circle cx="405.9" cy="301.2" r="0.8"/>
<circle cx="391.9" cy="290.0" r="0.8"/>
<circle cx="387.5" cy="286.7" r="0.8"/>
<circle cx="394.8" cy="292.9" r="0.8"/>
<circle cx="405.8" cy="301.1" r="0.8"/>
<circle cx="382.2" cy="288.4" r="0.8"/>
<circle cx="388.5" cy="286.7" r="0.8"/>
<circle cx="395.7" cy="292.7" r="0.8"/>
<circle cx="388.6" cy="287.6" r="0.8"/>
<circle cx="392.5" cy="296.8" r="0.8"/>
<circle cx="400.2" cy="301.2" r="0.8"/>
<circle cx="407.0" cy="294.4" r="0.8"/>
<circle cx="388.9" cy="289.5" r="0.8"/>
<circle cx="397.1" cy="301.1" r="0.8"/>
<circle cx="400.2" cy="296.7" r="0.8"/>
<circle cx="396.8" cy="294.2" r="0.8"/>
<circle cx="396.5" cy="297.9" r="0.8"/>
<circle cx="395.1" cy="290.2" r="0.8"/>
<circle cx="386.9" cy="292.3" r="0.8"/>
<circle cx="401.0" cy="302.1" r="0.8"/>
<circle cx="394.6" cy="296.3" r="0.8"/>
<circle cx="388.1" cy="287.5" r="0.8"/>
<circle cx="388.7" cy="292.0" r="0.8"/>
<circle cx="391.7" cy="290.6" r="0.8"/>
<circle cx="396.2" cy="300.7" r="0.8"/>
<circle cx="391.8" cy="287.0" r="0.8"/>
<circle cx="404.8" cy="296.5" r="0.8"/>
<circle cx="400.8" cy="295.7" r="0.8"/>
<circle cx="399.1" cy="288.8" r="0.8"/>
<circle cx="402.7" cy="297.5" r="0.8"/>
<circle cx="384.4" cy="294.7" r="0.8"/>
<circle cx="400.0" cy="296.1" r="0.8"/>
<circle cx="393.4" cy="299.6" r="0.8"/>
<circle cx="394.8" cy="295.6" r="0.8"/>
<circle cx="402.0" cy="295.2" r="0.8"/>
<circle cx="398.1" cy="293.9" r="0.8"/>
<circle cx="384.3" cy="289.2" r="0.8"/>
<circle cx="401.1" cy="298.8" r="0.8"/>
<circle cx="393.2" cy="283.4" r="0.8"/>
<circle cx="400.0" cy="297.2" r="0.8"/>
<circle cx="382.9" cy="284.0" r="0.8"/>
<circle cx="384.1" cy="285.1" r="0.8"/>
<circle cx="396.4" cy="296.4" r="0.8"/>
<circle cx="397.3" cy="296.3" r="0.8"/>
<circle cx="387.8" cy="286.4" r="0.8"/>
<circle cx="392.5" cy="290.7" r="0.8"/>
<circle cx="396.8" cy="297.9" r="0.8"/>
<circle cx="399.6" cy="296.4" r="0.8"/>
<circle cx="382.1" cy="285.4" r="0.8"/>
<circle cx="389.8" cy="294.0" r="0.8"/>
<circle cx="387.9" cy="287.7" r="0.8"/>
<circle cx="395.2" cy="293.4" r="0.8"/>
<circle cx="395.4" cy="285.8" r="0.8"/>
<circle cx="397.5" cy="300.1" r="0.8"/>
<circle cx="397.7" cy="291.3" r="0.8"/>
<circle cx="396.4" cy="297.3" r="0.8"/>
<circle cx="394.6" cy="293.4" r="0.8"/>
<circle cx="395.7" cy="285.8" r="0.8"/>
<circle cx="392.1" cy="288.2" r="0.8"/>
<circle cx="389.9" cy="286.7" r="0.8"/>
<circle cx="390.4" cy="299.9" r="0.8"/>
<circle cx="399.3" cy="289.3" r="0.8"/>
<circle cx="401.2" cy="294.4" r="0.8"/>
<circle cx="394.9" cy="286.5" r="0.8"/>
<circle cx="399.0" cy="292.3" r="0.8"/>
<circle cx="396.3" cy="293.1" r="0.8"/>
<circle cx="389.1" cy="293.3" r="0.8"/>
<circle cx="403.2" cy="300.4" r="0.8"/>
<circle cx="391.2" cy="286.0" r="0.8"/>
<circle cx="393.0" cy="302.8" r="0.8"/>
<circle cx="394.1" cy="289.5" r="0.8"/>
<circle cx="392.9" cy="287.2" r="0.8"/>
<circle cx="388.8" cy="287.9" r="0.8"/>
<circle cx="407.3" cy="303.3" r="0.8"/>
<circle cx="395.5" cy="286.9" r="0.8"/>
<circle cx="397.7" cy="295.7" r="0.8"/>
<circle cx="388.7" cy="284.0" r="0.8"/>
<circle cx="393.5" cy="297.0" r="0.8"/>
<circle cx="400.5" cy="298.9" r="0.8"/>
<circle cx="392.8" cy="293.4" r="0.8"/>
<circle cx="391.2" cy="300.4" r="0.8"/>
<circle cx="387.9" cy="286.5" r="0.8"/>
<circle cx="406.6" cy="301.6" r="0.8"/>
<circle cx="407.3" cy="303.2" r="0.8"/>
<circle cx="397.9" cy="294.4" r="0.8"/>
<circle cx="387.2" cy="283.3" r="0.8"/>
<circle cx="398.7" cy="300.9" r="0.8"/>
<circle cx="398.3" cy="300.8" r="0.8"/>
<circle cx="394.4" cy="292.2" r="0.8"/>
<circle cx="404.5" cy="299.6" r="0.8"/>
<circle cx="386.0" cy="285.7" r="0.8"/>
<circle cx="390.4" cy="292.8" r="0.8"/>
<circle cx="392.6" cy="287.1" r="0.8"/>
<circle cx="390.0" cy="296.7" r="0.8"/>
<circle cx="395.3" cy="294.6" r="0.8"/>
<circle cx="395.4" cy="295.4" r="0.8"/>
<circle cx="380.1" cy="288.1" r="0.8"/>
<circle cx="396.7" cy="293.6" r="0.8"/>
<circle cx="386.8" cy="289.5" r="0.8"/>
<circle cx="402.1" cy="298.7" r="0.8"/>
<circle cx="378.4" cy="279.2" r="0.8"/>
<circle cx="396.9" cy="290.3" r="0.8"/>
<circle cx="393.5" cy="291.3" r="0.8"/>
<circle cx="391.5" cy="287.5" r="0.8"/>
<circle cx="396.1" cy="295.9" r="0.8"/>
<circle cx="392.2" cy="291.1" r="0.8"/>
<circle cx="383.9" cy="287.4" r="0.8"/>
<circle cx="389.6" cy="290.5" r="0.8"/>
<circle cx="390.0" cy="287.5" r="0.8"/>
<circle cx="400.3" cy="292.5" r="0.8"/>
<circle cx="397.0" cy="292.0" r="0.8"/>
<circle cx="401.3" cy="292.6" r="0.8"/>
<circle cx="390.7" cy="293.1" r="0.8"/>
<circle cx="394.5" cy="288.1" r="0.8"/>
<circle cx="388.3" cy="285.1" r="0.8"/>
<circle cx="397.5" cy="292.8" r="0.8"/>
<circle cx="390.1" cy="302.3" r="0.8"/>
<circle cx="398.5" cy="296.9" r="0.8"/>
<circle cx="392.7" cy="296.5" r="0.8"/>
<circle cx="394.1" cy="291.6" r="0.8"/>
<circle cx="393.3" cy="291.9" r="0.8"/>
<circle cx="386.4" cy="285.0" r="0.8"/>
<circle cx="388.0" cy="291.8" r="0.8"/>
<circle cx="395.9" cy="298.3" r="0.8"/>
<circle cx="399.6" cy="288.9" r="0.8"/>
<circle cx="399.1" cy="297.9" r="0.8"/>
<circle cx="402.8" cy="294.0" r="0.8"/>
<circle cx="398.1" cy="293.1" r="0.8"/>
<circle cx="389.8" cy="291.2" r="0.8"/>
<circle cx="400.7" cy="294.2" r="0.8"/>
<circle cx="387.8" cy="277.1" r="0.8"/>
<circle cx="389.0" cy="294.1" r="0.8"/>
<circle cx="400.4" cy="288.0" r="0.8"/>
<circle cx="388.3" cy="290.4" r="0.8"/>
<circle cx="398.5" cy="297.3" r="0.8"/>
<circle cx="388.6" cy="286.7" r="0.8"/>
<circle cx="395.0" cy="290.3" r="0.8"/>
<circle cx="397.3" cy="293.8" r="0.8"/>
<circle cx="395.6" cy="300.5" r="0.8"/>
<circle cx="400.9" cy="300.2" r="0.8"/>
<circle cx="397.4" cy="288.8" r="0.8"/>
<circle cx="393.9" cy="295.3" r="0.8"/>
<circle cx="385.4" cy="291.7" r="0.8"/>
<circle cx="392.6" cy="293.5" r="0.8"/>
<circle cx="396.1" cy="289.0" r="0.8"/>
<circle cx="404.4" cy="298.6" r="0.8"/>
<circle cx="399.9" cy="294.0" r="0.8"/>
<circle cx="390.7" cy="294.5" r="0.8"/>
<circle cx="394.0" cy="297.2" r="0.8"/>
<circle cx="389.5" cy="292.6" r="0.8"/>
<circle cx="388.5" cy="291.3" r="0.8"/>
<circle cx="396.8" cy="300.5" r="0.8"/>
<circle cx="401.4" cy="293.4" r="0.8"/>
<circle cx="403.6" cy="295.6" r="0.8"/>
<circle cx="398.7" cy="303.3" r="0.8"/>
<circle cx="401.9" cy="296.6" r="0.8"/>
<circle cx="405.0" cy="302.3" r="0.8"/>
<circle cx="387.0" cy="285.9" r="0.8"/>
<circle cx="407.8" cy="302.4" r="0.8"/>
<circle cx="397.7" cy="294.3" r="0.8"/>
<circle cx="383.8" cy="282.7" r="0.8"/>
<circle cx="398.4" cy="297.3" r="0.8"/>
<circle cx="399.2" cy="287.5" r="0.8"/>
<circle cx="393.8" cy="290.1" r="0.8"/>
<circle cx="394.9" cy="301.1" r="0.8"/>
<circle cx="383.2" cy="283.5" r="0.8"/>
<circle cx="389.2" cy="291.6" r="0.8"/>
<circle cx="408.2" cy="302.7" r="0.8"/>
<circle cx="386.1" cy="287.0" r="0.8"/>
<circle cx="397.1" cy="288.5" r="0.8"/>
<circle cx="404.1" cy="298.5" r="0.8"/>
<circle cx="404.2" cy="295.1" r="0.8"/>
<circle cx="407.7" cy="297.3" r="0.8"/>
<circle cx="408.2" cy="296.0" r="0.8"/>
<circle cx="407.7" cy="302.0" r="0.8"/>
<circle cx="384.2" cy="284.3" r="0.8"/>
<circle cx="400.8" cy="293.8" r="0.8"/>
<circle cx="391.5" cy="292.2" r="0.8"/>
<circle cx="401.3" cy="285.0" r="0.8"/>
<circle cx="391.7" cy="293.0" r="0.8"/>
<circle cx="396.2" cy="299.1" r="0.8"/>
<circle cx="385.1" cy="297.3" r="0.8"/>
<circle cx="401.6" cy="300.3" r="0.8"/>
<circle cx="398.1" cy="293.4" r="0.8"/>
<circle cx="403.2" cy="302.0" r="0.8"/>
<circle cx="383.5" cy="279.8" r="0.8"/>
<circle cx="399.4" cy="297.7" r="0.8"/>
<circle cx="396.8" cy="298.0" r="0.8"/>
<circle cx="393.7" cy="299.8" r="0.8"/>
<circle cx="392.2" cy="289.8" r="0.8"/>
<circle cx="396.9" cy="298.5" r="0.8"/>
<circle cx="399.0" cy="303.5" r="0.8"/>
<circle cx="389.7" cy="294.8" r="0.8"/>
<circle cx="401.9" cy="294.5" r="0.8"/>
<circle cx="390.4" cy="299.4" r="0.8"/>
<circle cx="403.2" cy="298.0" r="0.8"/>
<circle cx="378.7" cy="277.7" r="0.8"/>
<circle cx="390.3" cy="290.4" r="0.8"/>
<circle cx="400.5" cy="293.8" r="0.8"/>
<circle cx="387.1" cy="286.6" r="0.8"/>
<circle cx="385.8" cy="299.9" r="0.8"/>
<circle cx="394.1" cy="290.3" r="0.8"/>
<circle cx="404.7" cy="301.7" r="0.8"/>
<circle cx="383.5" cy="290.5" r="0.8"/>
<circle cx="396.4" cy="288.9" r="0.8"/>
<circle cx="397.5" cy="297.8" r="0.8"/>
<circle cx="391.8" cy="294.3" r="0.8"/>
<circle cx="404.4" cy="297.1" r="0.8"/>
<circle cx="384.9" cy="275.2" r="0.8"/>
<circle cx="392.3" cy="297.1" r="0.8"/>
<circle cx="407.6" cy="296.8" r="0.8"/>
<circle cx="400.6" cy="299.8" r="0.8"/>
<circle cx="396.2" cy="292.7" r="0.8"/>
<circle cx="386.9" cy="288.0" r="0.8"/>
<circle cx="406.9" cy="301.4" r="0.8"/>
<circle cx="401.6" cy="295.9" r="0.8"/>
<circle cx="400.2" cy="293.3" r="0.8"/>
<circle cx="399.5" cy="296.2" r="0.8"/>
<circle cx="399.8" cy="294.8" r="0.8"/>
<circle cx="387.4" cy="286.4" r="0.8"/>
<circle cx="391.7" cy="294.7" r="0.8"/>
<circle cx="401.1" cy="300.3" r="0.8"/>
<circle cx="383.1" cy="285.8" r="0.8"/>
<circle cx="385.8" cy="291.8" r="0.8"/>
<circle cx="400.9" cy="301.1" r="0.8"/>
<circle cx="374.7" cy="280.6" r="0.8"/>
<circle cx="404.3" cy="295.3" r="0.8"/>
<circle cx="403.5" cy="300.7" r="0.8"/>
<circle cx="396.1" cy="291.4" r="0.8"/>
<circle cx="388.9" cy="287.0" r="0.8"/>
<circle cx="399.0" cy="294.0" r="0.8"/>
<circle cx="392.3" cy="289.2" r="0.8"/>
<circle cx="387.1" cy="291.5" r="0.8"/>
<circle cx="392.0" cy="295.2" r="0.8"/>
<circle cx="384.9" cy="290.0" r="0.8"/>
<circle cx="394.3" cy="296.2" r="0.8"/>
<circle cx="397.1" cy="291.4" r="0.8"/>
<circle cx="406.5" cy="300.8" r="0.8"/>
<circle cx="396.7" cy="291.2" r="0.8"/>
<circle cx="398.5" cy="294.7" r="0.8"/>
<circle cx="397.5" cy="297.2" r="0.8"/>
<circle cx="393.6" cy="286.4" r="0.8"/>
<circle cx="397.4" cy="299.7" r="0.8"/>
<circle cx="404.0" cy="295.6" r="0.8"/>
<circle cx="399.9" cy="299.3" r="0.8"/>
<circle cx="397.3" cy="297.4" r="0.8"/>
<circle cx="393.0" cy="293.1" r="0.8"/>
<circle cx="404.4" cy="298.8" r="0.8"/>
<circle cx="384.9" cy="285.3" r="0.8"/>
<circle cx="401.5" cy="290.6" r="0.8"/>
<circle cx="389.4" cy="292.0" r="0.8"/>
<circle cx="394.6" cy="293.8" r="0.8"/>
<circle cx="384.1" cy="289.2" r="0.8"/>
<circle cx="392.7" cy="286.8" r="0.8"/>
<circle cx="402.8" cy="300.3" r="0.8"/>
<circle cx="387.1" cy="293.0" r="0.8"/>
<circle cx="400.7" cy="300.9" r="0.8"/>
<circle cx="382.4" cy="283.4" r="0.8"/>
<circle cx="403.6" cy="295.0" r="0.8"/>
<circle cx="405.7" cy="298.9" r="0.8"/>
<circle cx="388.4" cy="292.7" r="0.8"/>
<circle cx="405.7" cy="301.6" r="0.8"/>
<circle cx="396.8" cy="286.9" r="0.8"/>
<circle cx="393.4" cy="290.3" r="0.8"/>
<circle cx="400.3" cy="299.5" r="0.8"/>
<circle cx="386.7" cy="284.1" r="0.8"/>
<circle cx="383.0" cy="293.3" r="0.8"/>
<circle cx="388.5" cy="292.4" r="0.8"/>
<circle cx="387.0" cy="285.9" r="0.8"/>
<circle cx="390.9" cy="289.2" r="0.8"/>
<circle cx="403.1" cy="294.5" r="0.8"/>
<circle cx="387.5" cy="297.1" r="0.8"/>
<circle cx="393.8" cy="298.6" r="0.8"/>
<circle cx="399.7" cy="294.9" r="0.8"/>
<circle cx="393.3" cy="291.8" r="0.8"/>
<circle cx="400.6" cy="298.6" r="0.8"/>
<circle cx="393.9" cy="289.6" r="0.8"/>
<circle cx="393.0" cy="285.7" r="0.8"/>
<circle cx="386.3" cy="290.9" r="0.8"/>
<circle cx="396.8" cy="294.4" r="0.8"/>
<circle cx="396.5" cy="299.6" r="0.8"/>
<circle cx="399.2" cy="300.4" r="0.8"/>
<circle cx="392.2" cy="290.3" r="0.8"/>
<circle cx="390.1" cy="289.5" r="0.8"/>
<circle cx="390.4" cy="288.4" r="0.8"/>
<circle cx="395.1" cy="292.8" r="0.8"/>
<circle cx="395.0" cy="291.5" r="0.8"/>
<circle cx="407.1" cy="301.6" r="0.8"/>
<circle cx="387.6" cy="288.8" r="0.8"/>
<circle cx="389.7" cy="284.8" r="0.8"/>
<circle cx="400.3" cy="290.4" r="0.8"/>
<circle cx="370.0" cy="275.5" r="0.8"/>
<circle cx="407.8" cy="296.3" r="0.8"/>
<circle cx="387.7" cy="290.6" r="0.8"/>
<circle cx="382.2" cy="279.9" r="0.8"/>
<circle cx="386.9" cy="286.5" r="0.8"/>
<circle cx="378.5" cy="284.8" r="0.8"/>
<circle cx="394.2" cy="294.4" r="0.8"/>
<circle cx="398.0" cy="286.6" r="0.8"/>
<circle cx="397.7" cy="289.9" r="0.8"/>
<circle cx="397.9" cy="292.2" r="0.8"/>
<circle cx="394.0" cy="292.0" r="0.8"/>
<circle cx="400.4" cy="301.4" r="0.8"/>
<circle cx="388.1" cy="288.3" r="0.8"/>
<circle cx="390.5" cy="289.7" r="0.8"/>
<circle cx="391.2" cy="295.0" r="0.8"/>
<circle cx="395.5" cy="295.7" r="0.8"/>
<circle cx="391.7" cy="283.5" r="0.8"/>
<circle cx="381.6" cy="287.1" r="0.8"/>
<circle cx="394.8" cy="300.8" r="0.8"/>
<circle cx="382.3" cy="279.9" r="0.8"/>
<circle cx="401.1" cy="302.4" r="0.8"/>
<circle cx="396.3" cy="294.7" r="0.8"/>
<circle cx="394.4" cy="297.0" r="0.8"/>
<circle cx="394.0" cy="294.4" r="0.8"/>
<circle cx="388.9" cy="291.4" r="0.8"/>
<circle cx="394.3" cy="292.4" r="0.8"/>
<circle cx="390.3" cy="295.0" r="0.8"/>
<circle cx="390.5" cy="290.7" r="0.8"/>
<circle cx="386.3" cy="296.6" r="0.8"/>
<circle cx="401.0" cy="296.6" r="0.8"/>
<circle cx="401.6" cy="295.3" r="0.8"/>
<circle cx="391.0" cy="291.1" r="0.8"/>
<circle cx="396.4" cy="300.8" r="0.8"/>
<circle cx="399.2" cy="297.7" r="0.8"/>
<circle cx="396.8" cy="291.3" r="0.8"/>
<circle cx="396.2" cy="292.3" r="0.8"/>
<circle cx="394.6" cy="283.5" r="0.8"/>
<circle cx="392.7" cy="292.5" r="0.8"/>
<circle cx="395.3" cy="297.7" r="0.8"/>
<circle cx="396.1" cy="291.7" r="0.8"/>
<circle cx="397.0" cy="298.2" r="0.8"/>
<circle cx="392.2" cy="284.7" r="0.8"/>
<circle cx="385.6" cy="291.1" r="0.8"/>
<circle cx="405.8" cy="298.2" r="0.8"/>
<circle cx="395.1" cy="297.5" r="0.8"/>
<circle cx="407.9" cy="300.9" r="0.8"/>
<circle cx="391.1" cy="296.9" r="0.8"/>
<circle cx="386.0" cy="288.7" r="0.8"/>
<circle cx="393.8" cy="292.5" r="0.8"/>
<circle cx="391.8" cy="289.1" r="0.8"/>
<circle cx="392.0" cy="299.4" r="0.8"/>
<circle cx="400.6" cy="300.0" r="0.8"/>
<circle cx="397.8" cy="292.6" r="0.8"/>
<circle cx="391.5" cy="296.5" r="0.8"/>
<circle cx="398.1" cy="296.0" r="0.8"/>
<circle cx="382.4" cy="285.6" r="0.8"/>
<circle cx="379.1" cy="288.1" r="0.8"/>
<circle cx="391.0" cy="290.6" r="0.8"/>
<circle cx="386.4" cy="284.8" r="0.8"/>
<circle cx="386.2" cy="291.9" r="0.8"/>
<circle cx="400.5" cy="292.8" r="0.8"/>
<circle cx="380.9" cy="282.4" r="0.8"/>
<circle cx="394.6" cy="288.4" r="0.8"/>
<circle cx="401.0" cy="297.6" r="0.8"/>
<circle cx="398.1" cy="293.6" r="0.8"/>
<circle cx="392.5" cy="289.7" r="0.8"/>
<circle cx="382.0" cy="286.4" r="0.8"/>
<circle cx="402.9" cy="292.2" r="0.8"/>
<circle cx="394.3" cy="298.3" r="0.8"/>
<circle cx="395.1" cy="299.5" r="0.8"/>
<circle cx="393.9" cy="292.9" r="0.8"/>
<circle cx="387.7" cy="284.0" r="0.8"/>
<circle cx="383.6" cy="280.8" r="0.8"/>
<circle cx="396.8" cy="297.4" r="0.8"/>
<circle cx="404.9" cy="302.0" r="0.8"/>
<circle cx="387.3" cy="289.6" r="0.8"/>
<circle cx="391.0" cy="298.5" r="0.8"/>
<circle cx="388.2" cy="286.1" r="0.8"/>
<circle cx="399.0" cy="293.7" r="0.8"/>
<circle cx="398.6" cy="299.6" r="0.8"/>
<circle cx="402.1" cy="300.3" r="0.8"/>
<circle cx="390.9" cy="286.7" r="0.8"/>
<circle cx="392.2" cy="297.4" r="0.8"/>
<circle cx="397.4" cy="298.6" r="0.8"/>
<circle cx="399.7" cy="303.1" r="0.8"/>
<circle cx="406.1" cy="295.5" r="0.8"/>
<circle cx="402.7" cy="301.4" r="0.8"/>
<circle cx="391.2" cy="293.1" r="0.8"/>
<circle cx="398.4" cy="296.1" r="0.8"/>
<circle cx="382.5" cy="284.4" r="0.8"/>
<circle cx="400.5" cy="297.8" r="0.8"/>
<circle cx="382.5" cy="286.0" r="0.8"/>
<circle cx="401.3" cy="299.4" r="0.8"/>
<circle cx="400.1" cy="296.2" r="0.8"/>
<circle cx="389.7" cy="291.9" r="0.8"/>
<circle cx="392.8" cy="292.8" r="0.8"/>
<circle cx="400.6" cy="290.9" r="0.8"/>
<circle cx="395.1" cy="297.2" r="0.8"/>
<circle cx="391.0" cy="289.5" r="0.8"/>
<circle cx="377.0" cy="282.2" r="0.8"/>
<circle cx="389.8" cy="292.7" r="0.8"/>
<circle cx="407.1" cy="302.5" r="0.8"/>
<circle cx="403.2" cy="301.3" r="0.8"/>
<circle cx="395.0" cy="292.5" r="0.8"/>
<circle cx="386.5" cy="292.8" r="0.8"/>
<circle cx="405.1" cy="297.1" r="0.8"/>
<circle cx="404.2" cy="297.7" r="0.8"/>
<circle cx="381.6" cy="288.5" r="0.8"/>
<circle cx="383.4" cy="289.9" r="0.8"/>
<circle cx="395.6" cy="298.2" r="0.8"/>
<circle cx="397.5" cy="300.8" r="0.8"/>
<circle cx="397.5" cy="298.2" r="0.8"/>
<circle cx="395.6" cy="299.1" r="0.8"/>
<circle cx="390.7" cy="294.9" r="0.8"/>
<circle cx="400.6" cy="295.8" r="0.8"/>
<circle cx="393.2" cy="293.4" r="0.8"/>
<circle cx="395.2" cy="290.0" r="0.8"/>
<circle cx="395.4" cy="294.8" r="0.8"/>
<circle cx="397.0" cy="298.4" r="0.8"/>
<circle cx="379.0" cy="287.5" r="0.8"/>
<circle cx="396.3" cy="291.3" r="0.8"/>
<circle cx="392.1" cy="293.4" r="0.8"/>
<circle cx="403.6" cy="298.8" r="0.8"/>
<circle cx="400.7" cy="291.1" r="0.8"/>
<circle cx="397.6" cy="295.2" r="0.8"/>
<circle cx="390.7" cy="294.3" r="0.8"/>
<circle cx="386.5" cy="293.9" r="0.8"/>
<circle cx="393.5" cy="292.3" r="0.8"/>
<circle cx="390.4" cy="292.2" r="0.8"/>
<circle cx="400.0" cy="298.3" r="0.8"/>
<circle cx="394.7" cy="292.8" r="0.8"/>
<circle cx="390.8" cy="294.7" r="0.8"/>
<circle cx="392.2" cy="290.9" r="0.8"/>
<circle cx="393.0" cy="278.8" r="0.8"/>
<circle cx="396.4" cy="275.6" r="0.8"/>
<circle cx="391.7" cy="290.3" r="0.8"/>
<circle cx="380.8" cy="287.5" r="0.8"/>
<circle cx="381.4" cy="278.2" r="0.8"/>
<circle cx="397.6" cy="286.5" r="0.8"/>
<circle cx="384.6" cy="285.3" r="0.8"/>
<circle cx="390.1" cy="285.8" r="0.8"/>
<circle cx="401.6" cy="298.8" r="0.8"/>
<circle cx="380.7" cy="264.4" r="0.8"/>
<circle cx="398.6" cy="291.7" r="0.8"/>
<circle cx="391.8" cy="265.1" r="0.8"/>
<circle cx="386.3" cy="293.5" r="0.8"/>
<circle cx="391.3" cy="262.6" r="0.8"/>
<circle cx="397.8" cy="286.7" r="0.8"/>
<circle cx="390.2" cy="279.7" r="0.8"/>
<circle cx="381.3" cy="276.9" r="0.8"/>
<circle cx="396.8" cy="294.6" r="0.8"/>
<circle cx="381.2" cy="282.8" r="0.8"/>
<circle cx="387.2" cy="285.3" r="0.8"/>
<circle cx="380.0" cy="277.5" r="0.8"/>
<circle cx="390.8" cy="296.7" r="0.8"/>
<circle cx="389.0" cy="286.1" r="0.8"/>
<circle cx="381.9" cy="282.0" r="0.8"/>
<circle cx="392.1" cy="296.2" r="0.8"/>
<circle cx="393.8" cy="275.1" r="0.8"/>
<circle cx="391.5" cy="282.5" r="0.8"/>
<circle cx="381.8" cy="279.2" r="0.8"/>
<circle cx="396.9" cy="295.0" r="0.8"/>
<circle cx="398.2" cy="296.6" r="0.8"/>
<circle cx="385.8" cy="272.0" r="0.8"/>
<circle cx="384.7" cy="283.4" r="0.8"/>
<circle cx="398.0" cy="293.7" r="0.8"/>
<circle cx="403.4" cy="290.6" r="0.8"/>
<circle cx="382.7" cy="289.1" r="0.8"/>
<circle cx="389.5" cy="292.7" r="0.8"/>
<circle cx="383.6" cy="258.6" r="0.8"/>
<circle cx="378.9" cy="279.7" r="0.8"/>
<circle cx="407.5" cy="297.5" r="0.8"/>
<circle cx="387.9" cy="270.2" r="0.8"/>
<circle cx="380.9" cy="277.6" r="0.8"/>
<circle cx="379.2" cy="288.7" r="0.8"/>
<circle cx="400.3" cy="288.3" r="0.8"/>
<circle cx="393.7" cy="285.7" r="0.8"/>
<circle cx="393.1" cy="295.5" r="0.8"/>
<circle cx="383.8" cy="284.3" r="0.8"/>
<circle cx="396.1" cy="289.3" r="0.8"/>
<circle cx="389.8" cy="289.4" r="0.8"/>
<circle cx="391.7" cy="278.1" r="0.8"/>
<circle cx="401.4" cy="296.5" r="0.8"/>
<circle cx="383.9" cy="280.1" r="0.8"/>
<circle cx="378.6" cy="269.8" r="0.8"/>
<circle cx="381.9" cy="269.0" r="0.8"/>
<circle cx="379.9" cy="263.6" r="0.8"/>
<circle cx="399.3" cy="292.1" r="0.8"/>
<circle cx="372.5" cy="279.3" r="0.8"/>
<circle cx="378.6" cy="284.0" r="0.8"/>
<circle cx="393.9" cy="272.9" r="0.8"/>
<circle cx="408.3" cy="300.3" r="0.8"/>
<circle cx="391.4" cy="296.4" r="0.8"/>
<circle cx="379.9" cy="271.5" r="0.8"/>
<circle cx="383.3" cy="280.9" r="0.8"/>
<circle cx="397.1" cy="278.8" r="0.8"/>
<circle cx="387.8" cy="287.8" r="0.8"/>
<circle cx="385.9" cy="283.5" r="0.8"/>
<circle cx="386.9" cy="278.7" r="0.8"/>
<circle cx="393.2" cy="288.1" r="0.8"/>
<circle cx="396.8" cy="300.4" r="0.8"/>
<circle cx="394.4" cy="295.3" r="0.8"/>
<circle cx="398.0" cy="280.8" r="0.8"/>
<circle cx="391.2" cy="301.6" r="0.8"/>
<circle cx="394.1" cy="285.2" r="0.8"/>
<circle cx="384.8" cy="288.7" r="0.8"/>
<circle cx="398.2" cy="282.9" r="0.8"/>
<circle cx="393.4" cy="279.3" r="0.8"/>
<circle cx="393.7" cy="278.5" r="0.8"/>
<circle cx="376.6" cy="281.6" r="0.8"/>
<circle cx="407.4" cy="287.7" r="0.8"/>
<circle cx="385.2" cy="272.7" r="0.8"/>
<circle cx="394.6" cy="274.7" r="0.8"/>
<circle cx="406.1" cy="286.2" r="0.8"/>
<circle cx="393.3" cy="293.7" r="0.8"/>
<circle cx="391.2" cy="277.8" r="0.8"/>
<circle cx="390.8" cy="285.3" r="0.8"/>
<circle cx="380.0" cy="258.6" r="0.8"/>
<circle cx="395.9" cy="288.8" r="0.8"/>
<circle cx="392.5" cy="276.0" r="0.8"/>
<circle cx="389.0" cy="274.1" r="0.8"/>
<circle cx="401.2" cy="301.0" r="0.8"/>
<circle cx="391.8" cy="287.0" r="0.8"/>
<circle cx="380.1" cy="287.0" r="0.8"/>
<circle cx="395.3" cy="288.9" r="0.8"/>
<circle cx="389.1" cy="283.7" r="0.8"/>
<circle cx="383.3" cy="271.7" r="0.8"/>
<circle cx="382.9" cy="280.6" r="0.8"/>
<circle cx="405.0" cy="282.3" r="0.8"/>
<circle cx="384.4" cy="286.0" r="0.8"/>
<circle cx="386.2" cy="266.7" r="0.8"/>
<circle cx="399.8" cy="293.3" r="0.8"/>
<circle cx="393.3" cy="274.8" r="0.8"/>
<circle cx="395.1" cy="283.5" r="0.8"/>
<circle cx="390.7" cy="287.9" r="0.8"/>
<circle cx="398.3" cy="289.6" r="0.8"/>
<circle cx="386.6" cy="279.1" r="0.8"/>
<circle cx="389.4" cy="283.9" r="0.8"/>
<circle cx="387.9" cy="278.0" r="0.8"/>
<circle cx="389.1" cy="276.0" r="0.8"/>
<circle cx="386.7" cy="290.4" r="0.8"/>
<circle cx="383.8" cy="281.3" r="0.8"/>
<circle cx="393.3" cy="287.9" r="0.8"/>
<circle cx="399.3" cy="288.4" r="0.8"/>
<circle cx="394.2" cy="290.8" r="0.8"/>
<circle cx="360.8" cy="251.6" r="0.8"/>
<circle cx="386.4" cy="297.9" r="0.8"/>
<circle cx="381.9" cy="274.2" r="0.8"/>
<circle cx="398.6" cy="283.6" r="0.8"/>
<circle cx="398.7" cy="297.6" r="0.8"/>
<circle cx="390.4" cy="271.5" r="0.8"/>
<circle cx="376.0" cy="289.7" r="0.8"/>
<circle cx="372.9" cy="269.1" r="0.8"/>
<circle cx="393.2" cy="280.5" r="0.8"/>
<circle cx="395.5" cy="290.4" r="0.8"/>
<circle cx="392.1" cy="288.0" r="0.8"/>
<circle cx="375.7" cy="278.9" r="0.8"/>
<circle cx="381.7" cy="284.3" r="0.8"/>
<circle cx="396.5" cy="291.0" r="0.8"/>
<circle cx="392.4" cy="285.3" r="0.8"/>
<circle cx="377.5" cy="264.8" r="0.8"/>
<circle cx="402.4" cy="281.7" r="0.8"/>
<circle cx="373.5" cy="274.0" r="0.8"/>
<circle cx="405.2" cy="285.7" r="0.8"/>
<circle cx="395.0" cy="288.4" r="0.8"/>
<circle cx="400.6" cy="292.3" r="0.8"/>
<circle cx="392.9" cy="278.9" r="0.8"/>
<circle cx="393.1" cy="285.3" r="0.8"/>
<circle cx="387.3" cy="276.3" r="0.8"/>
<circle cx="381.8" cy="279.3" r="0.8"/>
<circle cx="390.2" cy="267.6" r="0.8"/>
<circle cx="377.8" cy="279.1" r="0.8"/>
<circle cx="383.7" cy="281.8" r="0.8"/>
<circle cx="399.6" cy="289.2" r="0.8"/>
<circle cx="394.8" cy="293.6" r="0.8"/>
<circle cx="394.1" cy="280.8" r="0.8"/>
<circle cx="396.8" cy="278.2" r="0.8"/>
<circle cx="391.6" cy="279.0" r="0.8"/>
<circle cx="392.9" cy="289.8" r="0.8"/>
<circle cx="381.5" cy="281.4" r="0.8"/>
<circle cx="400.5" cy="296.0" r="0.8"/>
<circle cx="382.5" cy="278.9" r="0.8"/>
<circle cx="373.8" cy="257.7" r="0.8"/>
<circle cx="386.0" cy="298.0" r="0.8"/>
<circle cx="377.4" cy="283.1" r="0.8"/>
<circle cx="366.2" cy="265.4" r="0.8"/>
<circle cx="387.6" cy="290.1" r="0.8"/>
<circle cx="392.6" cy="279.8" r="0.8"/>
<circle cx="381.8" cy="288.0" r="0.8"/>
<circle cx="399.4" cy="291.1" r="0.8"/>
<circle cx="389.9" cy="291.4" r="0.8"/>
<circle cx="395.9" cy="289.5" r="0.8"/>
<circle cx="389.2" cy="274.5" r="0.8"/>
<circle cx="390.1" cy="277.5" r="0.8"/>
<circle cx="384.9" cy="262.7" r="0.8"/>
<circle cx="403.8" cy="288.1" r="0.8"/>
<circle cx="380.4" cy="270.9" r="0.8"/>
<circle cx="396.8" cy="303.5" r="0.8"/>
<circle cx="392.7" cy="275.7" r="0.8"/>
<circle cx="391.1" cy="275.0" r="0.8"/>
<circle cx="384.1" cy="280.6" r="0.8"/>
<circle cx="386.0" cy="270.3" r="0.8"/>
<circle cx="389.0" cy="281.4" r="0.8"/>
<circle cx="388.6" cy="273.2" r="0.8"/>
<circle cx="385.4" cy="269.7" r="0.8"/>
<circle cx="396.6" cy="288.2" r="0.8"/>
<circle cx="362.2" cy="255.9" r="0.8"/>
<circle cx="394.8" cy="279.7" r="0.8"/>
<circle cx="403.9" cy="268.9" r="0.8"/>
<circle cx="371.5" cy="272.5" r="0.8"/>
<circle cx="384.7" cy="276.9" r="0.8"/>
<circle cx="403.6" cy="286.6" r="0.8"/>
<circle cx="399.6" cy="282.7" r="0.8"/>
<circle cx="394.1" cy="287.6" r="0.8"/>
<circle cx="405.7" cy="290.0" r="0.8"/>
<circle cx="381.9" cy="291.5" r="0.8"/>
<circle cx="379.3" cy="273.6" r="0.8"/>
<circle cx="397.1" cy="286.3" r="0.8"/>
<circle cx="381.7" cy="287.3" r="0.8"/>
<circle cx="397.7" cy="297.7" r="0.8"/>
<circle cx="398.9" cy="282.0" r="0.8"/>
<circle cx="382.9" cy="292.4" r="0.8"/>
<circle cx="406.5" cy="288.8" r="0.8"/>
<circle cx="377.0" cy="260.6" r="0.8"/>
<circle cx="395.1" cy="283.4" r="0.8"/>
<circle cx="386.7" cy="282.4" r="0.8"/>
<circle cx="397.4" cy="293.8" r="0.8"/>
<circle cx="408.5" cy="290.5" r="0.8"/>
<circle cx="392.8" cy="290.4" r="0.8"/>
<circle cx="372.3" cy="274.4" r="0.8"/>
<circle cx="384.8" cy="262.1" r="0.8"/>
<circle cx="387.4" cy="293.4" r="0.8"/>
<circle cx="406.2" cy="290.8" r="0.8"/>
<circle cx="388.1" cy="294.7" r="0.8"/>
<circle cx="389.3" cy="282.7" r="0.8"/>
<circle cx="383.5" cy="282.5" r="0.8"/>
<circle cx="389.3" cy="276.0" r="0.8"/>
<circle cx="385.4" cy="267.9" r="0.8"/>
<circle cx="390.5" cy="288.2" r="0.8"/>
<circle cx="393.0" cy="275.7" r="0.8"/>
<circle cx="392.1" cy="288.9" r="0.8"/>
<circle cx="404.2" cy="294.7" r="0.8"/>
<circle cx="385.0" cy="282.0" r="0.8"/>
<circle cx="404.1" cy="299.1" r="0.8"/>
<circle cx="395.0" cy="279.3" r="0.8"/>
<circle cx="383.1" cy="284.2" r="0.8"/>
<circle cx="392.6" cy="297.2" r="0.8"/>
<circle cx="373.0" cy="271.1" r="0.8"/>
<circle cx="380.3" cy="277.2" r="0.8"/>
<circle cx="371.6" cy="259.9" r="0.8"/>
<circle cx="377.2" cy="280.5" r="0.8"/>
<circle cx="385.5" cy="290.7" r="0.8"/>
<circle cx="377.4" cy="287.9" r="0.8"/>
<circle cx="377.8" cy="287.5" r="0.8"/>
<circle cx="391.8" cy="275.0" r="0.8"/>
<circle cx="400.6" cy="291.3" r="0.8"/>
<circle cx="397.3" cy="277.8" r="0.8"/>
<circle cx="429.3" cy="300.1" r="0.8"/>
<circle cx="426.6" cy="302.1" r="0.8"/>
<circle cx="430.3" cy="303.6" r="0.8"/>
<circle cx="428.4" cy="298.3" r="0.8"/>
<circle cx="428.6" cy="300.9" r="0.8"/>
<circle cx="436.4" cy="295.1" r="0.8"/>
<circle cx="425.9" cy="302.6" r="0.8"/>
<circle cx="436.9" cy="291.2" r="0.8"/>
<circle cx="447.5" cy="294.9" r="0.8"/>
<circle cx="439.1" cy="296.6" r="0.8"/>
<circle cx="427.5" cy="298.3" r="0.8"/>
<circle cx="446.4" cy="287.6" r="0.8"/>
<circle cx="443.7" cy="293.7" r="0.8"/>
<circle cx="424.6" cy="302.5" r="0.8"/>
<circle cx="425.3" cy="302.2" r="0.8"/>
<circle cx="425.4" cy="298.1" r="0.8"/>
<circle cx="453.4" cy="287.1" r="0.8"/>
<circle cx="440.1" cy="294.6" r="0.8"/>
<circle cx="436.2" cy="292.9" r="0.8"/>
<circle cx="440.8" cy="295.7" r="0.8"/>
<circle cx="440.2" cy="303.2" r="0.8"/>
<circle cx="435.0" cy="299.8" r="0.8"/>
<circle cx="438.0" cy="298.0" r="0.8"/>
<circle cx="431.4" cy="297.6" r="0.8"/>
<circle cx="439.3" cy="298.7" r="0.8"/>
<circle cx="433.7" cy="303.0" r="0.8"/>
<circle cx="428.4" cy="295.2" r="0.8"/>
<circle cx="439.5" cy="297.2" r="0.8"/>
<circle cx="448.3" cy="291.5" r="0.8"/>
<circle cx="447.5" cy="289.2" r="0.8"/>
<circle cx="439.7" cy="295.3" r="0.8"/>
<circle cx="444.3" cy="296.0" r="0.8"/>
<circle cx="430.2" cy="302.6" r="0.8"/>
<circle cx="440.5" cy="297.2" r="0.8"/>
<circle cx="434.8" cy="298.1" r="0.8"/>
<circle cx="425.1" cy="301.5" r="0.8"/>
<circle cx="432.2" cy="296.3" r="0.8"/>
<circle cx="429.9" cy="300.0" r="0.8"/>
<circle cx="435.0" cy="300.2" r="0.8"/>
<circle cx="433.8" cy="296.6" r="0.8"/>
<circle cx="434.3" cy="296.1" r="0.8"/>
<circle cx="441.5" cy="293.4" r="0.8"/>
<circle cx="443.6" cy="287.5" r="0.8"/>
<circle cx="431.1" cy="299.2" r="0.8"/>
<circle cx="442.2" cy="298.1" r="0.8"/>
<circle cx="429.0" cy="295.4" r="0.8"/>
<circle cx="438.7" cy="298.3" r="0.8"/>
<circle cx="436.0" cy="296.9" r="0.8"/>
<circle cx="440.4" cy="295.4" r="0.8"/>
<circle cx="438.0" cy="296.8" r="0.8"/>
<circle cx="447.5" cy="295.4" r="0.8"/>
<circle cx="428.6" cy="303.0" r="0.8"/>
<circle cx="441.5" cy="292.8" r="0.8"/>
<circle cx="427.1" cy="302.3" r="0.8"/>
<circle cx="430.7" cy="296.9" r="0.8"/>
<circle cx="427.0" cy="303.1" r="0.8"/>
<circle cx="424.5" cy="302.4" r="0.8"/>
<circle cx="424.4" cy="303.4" r="0.8"/>
<circle cx="447.4" cy="293.0" r="0.8"/>
<circle cx="441.8" cy="295.3" r="0.8"/>
<circle cx="423.8" cy="301.5" r="0.8"/>
<circle cx="433.1" cy="299.3" r="0.8"/>
<circle cx="427.8" cy="302.3" r="0.8"/>
<circle cx="426.2" cy="301.4" r="0.8"/>
<circle cx="430.7" cy="295.8" r="0.8"/>
<circle cx="440.4" cy="294.8" r="0.8"/>
<circle cx="432.9" cy="298.0" r="0.8"/>
<circle cx="428.0" cy="302.2" r="0.8"/>
<circle cx="429.4" cy="302.8" r="0.8"/>
<circle cx="435.6" cy="297.3" r="0.8"/>
<circle cx="432.8" cy="300.4" r="0.8"/>
<circle cx="433.3" cy="295.0" r="0.8"/>
<circle cx="436.4" cy="294.2" r="0.8"/>
<circle cx="430.9" cy="303.2" r="0.8"/>
<circle cx="453.8" cy="292.6" r="0.8"/>
<circle cx="434.7" cy="295.0" r="0.8"/>
<circle cx="433.3" cy="293.9" r="0.8"/>
<circle cx="445.6" cy="293.8" r="0.8"/>
<circle cx="443.4" cy="294.4" r="0.8"/>
<circle cx="430.7" cy="298.6" r="0.8"/>
<circle cx="443.8" cy="291.1" r="0.8"/>
<circle cx="431.2" cy="298.7" r="0.8"/>
<circle cx="430.2" cy="296.4" r="0.8"/>
<circle cx="434.6" cy="296.7" r="0.8"/>
<circle cx="432.6" cy="295.2" r="0.8"/>
<circle cx="431.0" cy="296.2" r="0.8"/>
<circle cx="424.1" cy="303.2" r="0.8"/>
<circle cx="437.9" cy="297.4" r="0.8"/>
<circle cx="431.3" cy="297.7" r="0.8"/>
<circle cx="444.9" cy="296.1" r="0.8"/>
<circle cx="425.6" cy="298.3" r="0.8"/>
<circle cx="435.5" cy="297.8" r="0.8"/>
<circle cx="435.1" cy="299.9" r="0.8"/>
<circle cx="445.4" cy="296.3" r="0.8"/>
<circle cx="430.0" cy="299.5" r="0.8"/>
<circle cx="425.2" cy="302.8" r="0.8"/>
<circle cx="443.7" cy="295.9" r="0.8"/>
<circle cx="438.7" cy="298.7" r="0.8"/>
<circle cx="435.2" cy="299.5" r="0.8"/>
<circle cx="436.8" cy="298.6" r="0.8"/>
<circle cx="435.3" cy="294.7" r="0.8"/>
<circle cx="423.3" cy="300.9" r="0.8"/>
<circle cx="439.1" cy="294.9" r="0.8"/>
<circle cx="429.3" cy="297.8" r="0.8"/>
<circle cx="432.8" cy="302.7" r="0.8"/>
<circle cx="426.0" cy="300.3" r="0.8"/>
<circle cx="446.8" cy="293.7" r="0.8"/>
<circle cx="438.9" cy="293.6" r="0.8"/>
<circle cx="426.2" cy="301.4" r="0.8"/>
<circle cx="431.6" cy="297.4" r="0.8"/>
<circle cx="444.7" cy="293.6" r="0.8"/>
<circle cx="430.2" cy="300.8" r="0.8"/>
<circle cx="444.7" cy="291.1" r="0.8"/>
<circle cx="432.8" cy="296.9" r="0.8"/>
<circle cx="432.5" cy="296.3" r="0.8"/>
<circle cx="436.5" cy="299.8" r="0.8"/>
<circle cx="428.5" cy="299.2" r="0.8"/>
<circle cx="431.6" cy="294.9" r="0.8"/>
<circle cx="445.5" cy="288.4" r="0.8"/>
<circle cx="428.1" cy="297.8" r="0.8"/>
<circle cx="443.8" cy="291.6" r="0.8"/>
<circle cx="430.2" cy="297.1" r="0.8"/>
<circle cx="432.2" cy="299.0" r="0.8"/>
<circle cx="425.7" cy="300.9" r="0.8"/>
<circle cx="431.1" cy="301.0" r="0.8"/>
<circle cx="439.3" cy="297.5" r="0.8"/>
<circle cx="431.9" cy="300.9" r="0.8"/>
<circle cx="431.6" cy="302.1" r="0.8"/>
<circle cx="434.9" cy="295.9" r="0.8"/>
<circle cx="440.5" cy="290.2" r="0.8"/>
<circle cx="423.2" cy="300.3" r="0.8"/>
<circle cx="429.6" cy="296.1" r="0.8"/>
<circle cx="432.2" cy="296.2" r="0.8"/>
<circle cx="450.9" cy="291.9" r="0.8"/>
<circle cx="434.1" cy="300.6" r="0.8"/>
<circle cx="440.6" cy="293.3" r="0.8"/>
<circle cx="424.7" cy="300.8" r="0.8"/>
<circle cx="436.9" cy="303.2" r="0.8"/>
<circle cx="448.6" cy="295.1" r="0.8"/>
<circle cx="429.9" cy="298.5" r="0.8"/>
<circle cx="434.8" cy="296.4" r="0.8"/>
<circle cx="428.0" cy="299.8" r="0.8"/>
<circle cx="438.9" cy="295.1" r="0.8"/>
<circle cx="433.7" cy="297.0" r="0.8"/>
<circle cx="430.1" cy="298.5" r="0.8"/>
<circle cx="442.7" cy="294.2" r="0.8"/>
<circle cx="444.1" cy="292.4" r="0.8"/>
<circle cx="439.3" cy="291.1" r="0.8"/>
<circle cx="428.7" cy="299.9" r="0.8"/>
<circle cx="426.7" cy="300.6" r="0.8"/>
<circle cx="424.3" cy="301.6" r="0.8"/>
<circle cx="426.6" cy="301.0" r="0.8"/>
<circle cx="428.5" cy="297.2" r="0.8"/>
<circle cx="428.7" cy="300.1" r="0.8"/>
<circle cx="442.1" cy="293.2" r="0.8"/>
<circle cx="437.3" cy="297.9" r="0.8"/>
<circle cx="451.5" cy="286.5" r="0.8"/>
<circle cx="448.9" cy="288.6" r="0.8"/>
<circle cx="442.0" cy="288.6" r="0.8"/>
<circle cx="441.5" cy="294.5" r="0.8"/>
<circle cx="435.0" cy="296.6" r="0.8"/>
<circle cx="436.0" cy="296.9" r="0.8"/>
<circle cx="443.9" cy="287.7" r="0.8"/>
<circle cx="434.1" cy="297.6" r="0.8"/>
<circle cx="436.5" cy="292.6" r="0.8"/>
<circle cx="430.7" cy="293.9" r="0.8"/>
<circle cx="435.1" cy="297.1" r="0.8"/>
<circle cx="435.2" cy="289.5" r="0.8"/>
<circle cx="435.2" cy="294.5" r="0.8"/>
<circle cx="429.0" cy="302.2" r="0.8"/>
<circle cx="446.1" cy="292.4" r="0.8"/>
<circle cx="432.6" cy="302.0" r="0.8"/>
<circle cx="424.6" cy="301.5" r="0.8"/>
<circle cx="426.8" cy="298.1" r="0.8"/>
<circle cx="435.9" cy="302.6" r="0.8"/>
<circle cx="434.7" cy="298.7" r="0.8"/>
<circle cx="433.1" cy="301.3" r="0.8"/>
<circle cx="432.6" cy="295.7" r="0.8"/>
<circle cx="434.5" cy="301.5" r="0.8"/>
<circle cx="432.7" cy="301.7" r="0.8"/>
<circle cx="433.7" cy="303.6" r="0.8"/>
<circle cx="435.1" cy="299.0" r="0.8"/>
<circle cx="430.6" cy="301.6" r="0.8"/>
<circle cx="428.6" cy="295.8" r="0.8"/>
<circle cx="433.2" cy="294.5" r="0.8"/>
<circle cx="445.1" cy="294.7" r="0.8"/>
<circle cx="433.0" cy="300.1" r="0.8"/>
<circle cx="427.5" cy="302.6" r="0.8"/>
<circle cx="451.3" cy="284.9" r="0.8"/>
<circle cx="429.0" cy="300.9" r="0.8"/>
<circle cx="433.6" cy="292.9" r="0.8"/>
<circle cx="427.7" cy="302.1" r="0.8"/>
<circle cx="441.7" cy="294.3" r="0.8"/>
<circle cx="430.1" cy="300.1" r="0.8"/>
<circle cx="435.6" cy="296.0" r="0.8"/>
<circle cx="438.8" cy="301.0" r="0.8"/>
<circle cx="449.7" cy="288.6" r="0.8"/>
<circle cx="441.5" cy="297.6" r="0.8"/>
<circle cx="436.8" cy="295.6" r="0.8"/>
<circle cx="441.3" cy="297.4" r="0.8"/>
<circle cx="440.5" cy="291.4" r="0.8"/>
<circle cx="440.1" cy="293.7" r="0.8"/>
<circle cx="429.5" cy="300.7" r="0.8"/>
<circle cx="437.0" cy="297.0" r="0.8"/>
<circle cx="430.8" cy="299.8" r="0.8"/>
<circle cx="430.8" cy="300.7" r="0.8"/>
<circle cx="440.1" cy="297.2" r="0.8"/>
<circle cx="431.4" cy="295.3" r="0.8"/>
<circle cx="435.0" cy="296.7" r="0.8"/>
<circle cx="433.0" cy="299.2" r="0.8"/>
<circle cx="440.0" cy="293.2" r="0.8"/>
<circle cx="436.7" cy="298.5" r="0.8"/>
<circle cx="425.4" cy="300.6" r="0.8"/>
<circle cx="435.0" cy="289.7" r="0.8"/>
<circle cx="436.2" cy="293.9" r="0.8"/>
<circle cx="441.6" cy="300.5" r="0.8"/>
<circle cx="433.8" cy="297.6" r="0.8"/>
<circle cx="431.5" cy="295.8" r="0.8"/>
<circle cx="436.8" cy="296.8" r="0.8"/>
<circle cx="439.8" cy="299.0" r="0.8"/>
<circle cx="432.6" cy="298.8" r="0.8"/>
<circle cx="436.7" cy="301.4" r="0.8"/>
<circle cx="427.1" cy="301.2" r="0.8"/>
<circle cx="439.0" cy="295.5" r="0.8"/>
<circle cx="438.3" cy="296.1" r="0.8"/>
<circle cx="425.5" cy="299.6" r="0.8"/>
<circle cx="429.8" cy="302.0" r="0.8"/>
<circle cx="439.1" cy="292.7" r="0.8"/>
<circle cx="425.1" cy="302.3" r="0.8"/>
<circle cx="436.7" cy="295.2" r="0.8"/>
<circle cx="445.8" cy="289.8" r="0.8"/>
<circle cx="435.1" cy="295.9" r="0.8"/>
<circle cx="431.5" cy="300.5" r="0.8"/>
<circle cx="430.2" cy="297.3" r="0.8"/>
<circle cx="427.5" cy="299.7" r="0.8"/>
<circle cx="438.0" cy="294.9" r="0.8"/>
<circle cx="443.2" cy="295.8" r="0.8"/>
<circle cx="424.0" cy="302.0" r="0.8"/>
<circle cx="441.6" cy="294.1" r="0.8"/>
<circle cx="432.2" cy="302.2" r="0.8"/>
<circle cx="425.0" cy="299.4" r="0.8"/>
<circle cx="440.8" cy="296.2" r="0.8"/>
<circle cx="438.3" cy="295.1" r="0.8"/>
<circle cx="429.0" cy="300.3" r="0.8"/>
<circle cx="433.1" cy="296.0" r="0.8"/>
<circle cx="437.2" cy="291.6" r="0.8"/>
<circle cx="423.4" cy="302.4" r="0.8"/>
<circle cx="424.5" cy="301.9" r="0.8"/>
<circle cx="434.6" cy="299.2" r="0.8"/>
<circle cx="437.7" cy="291.4" r="0.8"/>
<circle cx="449.7" cy="289.4" r="0.8"/>
<circle cx="424.4" cy="297.3" r="0.8"/>
<circle cx="426.5" cy="296.0" r="0.8"/>
<circle cx="433.0" cy="296.4" r="0.8"/>
<circle cx="433.9" cy="295.4" r="0.8"/>
<circle cx="435.1" cy="303.5" r="0.8"/>
<circle cx="441.9" cy="294.4" r="0.8"/>
<circle cx="442.0" cy="292.1" r="0.8"/>
<circle cx="443.8" cy="294.7" r="0.8"/>
<circle cx="451.9" cy="294.4" r="0.8"/>
<circle cx="436.2" cy="294.8" r="0.8"/>
<circle cx="438.5" cy="299.5" r="0.8"/>
<circle cx="430.0" cy="291.1" r="0.8"/>
<circle cx="428.6" cy="299.1" r="0.8"/>
<circle cx="431.2" cy="297.9" r="0.8"/>
<circle cx="440.0" cy="291.1" r="0.8"/>
<circle cx="433.5" cy="292.1" r="0.8"/>
<circle cx="424.9" cy="299.2" r="0.8"/>
<circle cx="427.0" cy="302.6" r="0.8"/>
<circle cx="436.9" cy="296.5" r="0.8"/>
<circle cx="432.9" cy="296.1" r="0.8"/>
<circle cx="427.4" cy="297.4" r="0.8"/>
<circle cx="430.2" cy="301.4" r="0.8"/>
<circle cx="438.0" cy="299.5" r="0.8"/>
<circle cx="437.3" cy="294.8" r="0.8"/>
<circle cx="442.4" cy="292.5" r="0.8"/>
<circle cx="445.2" cy="291.2" r="0.8"/>
<circle cx="429.5" cy="301.7" r="0.8"/>
<circle cx="448.3" cy="292.1" r="0.8"/>
<circle cx="431.0" cy="296.8" r="0.8"/>
<circle cx="436.7" cy="299.9" r="0.8"/>
<circle cx="433.4" cy="300.4" r="0.8"/>
<circle cx="434.6" cy="297.7" r="0.8"/>
<circle cx="442.6" cy="292.3" r="0.8"/>
<circle cx="425.4" cy="303.1" r="0.8"/>
<circle cx="434.1" cy="300.8" r="0.8"/>
<circle cx="435.9" cy="296.3" r="0.8"/>
<circle cx="431.4" cy="295.1" r="0.8"/>
<circle cx="436.6" cy="295.1" r="0.8"/>
<circle cx="426.7" cy="300.7" r="0.8"/>
<circle cx="431.9" cy="297.6" r="0.8"/>
<circle cx="439.2" cy="298.1" r="0.8"/>
<circle cx="431.9" cy="303.1" r="0.8"/>
<circle cx="430.0" cy="296.9" r="0.8"/>
<circle cx="431.7" cy="294.5" r="0.8"/>
<circle cx="428.4" cy="297.1" r="0.8"/>
<circle cx="428.7" cy="300.6" r="0.8"/>
<circle cx="433.9" cy="297.0" r="0.8"/>
<circle cx="438.2" cy="296.6" r="0.8"/>
<circle cx="427.9" cy="297.5" r="0.8"/>
<circle cx="438.8" cy="297.5" r="0.8"/>
<circle cx="425.9" cy="297.7" r="0.8"/>
<circle cx="451.8" cy="269.8" r="0.8"/>
<circle cx="440.0" cy="283.2" r="0.8"/>
<circle cx="435.6" cy="287.1" r="0.8"/>
<circle cx="446.4" cy="276.5" r="0.8"/>
<circle cx="433.4" cy="290.4" r="0.8"/>
<circle cx="450.9" cy="262.6" r="0.8"/>
<circle cx="426.0" cy="300.0" r="0.8"/>
<circle cx="444.6" cy="279.9" r="0.8"/>
<circle cx="447.9" cy="287.1" r="0.8"/>
<circle cx="427.9" cy="296.1" r="0.8"/>
<circle cx="443.3" cy="291.4" r="0.8"/>
<circle cx="430.4" cy="284.9" r="0.8"/>
<circle cx="434.0" cy="295.3" r="0.8"/>
<circle cx="430.8" cy="295.0" r="0.8"/>
<circle cx="427.8" cy="290.9" r="0.8"/>
<circle cx="438.5" cy="296.3" r="0.8"/>
<circle cx="428.9" cy="298.0" r="0.8"/>
<circle cx="440.9" cy="273.8" r="0.8"/>
<circle cx="450.9" cy="265.1" r="0.8"/>
<circle cx="429.9" cy="301.1" r="0.8"/>
<circle cx="433.3" cy="283.0" r="0.8"/>
<circle cx="424.1" cy="282.0" r="0.8"/>
<circle cx="425.0" cy="290.4" r="0.8"/>
<circle cx="427.8" cy="301.5" r="0.8"/>
<circle cx="445.9" cy="287.4" r="0.8"/>
<circle cx="434.8" cy="298.6" r="0.8"/>
<circle cx="446.3" cy="274.0" r="0.8"/>
<circle cx="434.6" cy="281.7" r="0.8"/>
<circle cx="430.6" cy="289.5" r="0.8"/>
<circle cx="451.5" cy="283.4" r="0.8"/>
<circle cx="449.5" cy="272.9" r="0.8"/>
<circle cx="437.3" cy="270.6" r="0.8"/>
<circle cx="431.4" cy="299.0" r="0.8"/>
<circle cx="427.1" cy="284.3" r="0.8"/>
<circle cx="431.6" cy="281.3" r="0.8"/>
<circle cx="443.0" cy="290.0" r="0.8"/>
<circle cx="425.1" cy="296.4" r="0.8"/>
<circle cx="441.5" cy="278.9" r="0.8"/>
<circle cx="435.0" cy="280.5" r="0.8"/>
<circle cx="424.4" cy="281.5" r="0.8"/>
<circle cx="440.3" cy="291.1" r="0.8"/>
<circle cx="426.3" cy="297.1" r="0.8"/>
<circle cx="447.8" cy="281.0" r="0.8"/>
<circle cx="443.4" cy="269.4" r="0.8"/>
<circle cx="440.1" cy="295.3" r="0.8"/>
<circle cx="433.8" cy="291.2" r="0.8"/>
<circle cx="426.8" cy="292.5" r="0.8"/>
<circle cx="433.6" cy="300.3" r="0.8"/>
<circle cx="445.0" cy="277.9" r="0.8"/>
<circle cx="426.7" cy="286.6" r="0.8"/>
<circle cx="437.6" cy="277.2" r="0.8"/>
<circle cx="439.5" cy="289.4" r="0.8"/>
<circle cx="434.9" cy="287.2" r="0.8"/>
<circle cx="432.2" cy="299.6" r="0.8"/>
<circle cx="444.2" cy="281.5" r="0.8"/>
<circle cx="444.4" cy="262.0" r="0.8"/>
<circle cx="439.5" cy="286.9" r="0.8"/>
<circle cx="440.8" cy="282.4" r="0.8"/>
<circle cx="434.6" cy="275.2" r="0.8"/>
<circle cx="440.6" cy="289.7" r="0.8"/>
<circle cx="435.4" cy="285.2" r="0.8"/>
<circle cx="437.1" cy="270.3" r="0.8"/>
<circle cx="446.2" cy="285.5" r="0.8"/>
<circle cx="431.2" cy="285.5" r="0.8"/>
<circle cx="439.5" cy="277.9" r="0.8"/>
<circle cx="430.2" cy="294.9" r="0.8"/>
<circle cx="424.0" cy="296.9" r="0.8"/>
<circle cx="442.9" cy="277.0" r="0.8"/>
<circle cx="444.4" cy="286.6" r="0.8"/>
<circle cx="458.3" cy="274.7" r="0.8"/>
<circle cx="435.5" cy="294.2" r="0.8"/>
<circle cx="445.2" cy="268.4" r="0.8"/>
<circle cx="444.1" cy="282.6" r="0.8"/>
<circle cx="432.7" cy="285.0" r="0.8"/>
<circle cx="444.6" cy="264.2" r="0.8"/>
<circle cx="441.9" cy="286.4" r="0.8"/>
<circle cx="445.0" cy="287.5" r="0.8"/>
<circle cx="451.5" cy="270.1" r="0.8"/>
<circle cx="455.2" cy="267.7" r="0.8"/>
<circle cx="424.6" cy="298.0" r="0.8"/>
<circle cx="439.8" cy="282.8" r="0.8"/>
<circle cx="441.4" cy="280.8" r="0.8"/>
<circle cx="451.0" cy="268.7" r="0.8"/>
<circle cx="442.9" cy="283.3" r="0.8"/>
<circle cx="425.1" cy="289.4" r="0.8"/>
<circle cx="436.7" cy="293.5" r="0.8"/>
<circle cx="439.2" cy="292.3" r="0.8"/>
<circle cx="434.9" cy="293.7" r="0.8"/>
<circle cx="440.3" cy="287.5" r="0.8"/>
<circle cx="437.6" cy="285.7" r="0.8"/>
<circle cx="437.6" cy="294.3" r="0.8"/>
<circle cx="438.4" cy="287.1" r="0.8"/>
<circle cx="438.9" cy="275.1" r="0.8"/>
<circle cx="429.3" cy="294.3" r="0.8"/>
<circle cx="443.7" cy="267.6" r="0.8"/>
<circle cx="423.9" cy="293.5" r="0.8"/>
<circle cx="429.1" cy="286.2" r="0.8"/>
<circle cx="431.7" cy="296.0" r="0.8"/>
<circle cx="427.2" cy="297.3" r="0.8"/>
<circle cx="425.7" cy="297.7" r="0.8"/>
<circle cx="433.3" cy="273.1" r="0.8"/>
<circle cx="438.1" cy="285.3" r="0.8"/>
<circle cx="437.3" cy="286.6" r="0.8"/>
<circle cx="435.2" cy="276.5" r="0.8"/>
<circle cx="438.3" cy="288.5" r="0.8"/>
<circle cx="442.6" cy="266.5" r="0.8"/>
<circle cx="426.1" cy="287.5" r="0.8"/>
<circle cx="432.3" cy="282.0" r="0.8"/>
<circle cx="431.3" cy="298.5" r="0.8"/>
<circle cx="448.1" cy="253.7" r="0.8"/>
<circle cx="447.5" cy="263.9" r="0.8"/>
<circle cx="444.1" cy="278.6" r="0.8"/>
<circle cx="446.7" cy="270.7" r="0.8"/>
<circle cx="429.3" cy="294.2" r="0.8"/>
<circle cx="440.1" cy="273.6" r="0.8"/>
<circle cx="440.3" cy="280.6" r="0.8"/>
<circle cx="438.4" cy="283.2" r="0.8"/>
<circle cx="445.3" cy="280.9" r="0.8"/>
<circle cx="432.9" cy="287.3" r="0.8"/>
<circle cx="424.6" cy="295.0" r="0.8"/>
<circle cx="445.4" cy="282.3" r="0.8"/>
<circle cx="444.0" cy="268.9" r="0.8"/>
<circle cx="443.1" cy="285.8" r="0.8"/>
<circle cx="428.5" cy="293.9" r="0.8"/>
<circle cx="423.6" cy="296.7" r="0.8"/>
<circle cx="443.3" cy="277.5" r="0.8"/>
<circle cx="431.4" cy="287.5" r="0.8"/>
<circle cx="453.0" cy="270.5" r="0.8"/>
<circle cx="432.6" cy="289.2" r="0.8"/>
<circle cx="430.3" cy="288.8" r="0.8"/>
<circle cx="436.6" cy="273.5" r="0.8"/>
<circle cx="435.8" cy="283.7" r="0.8"/>
<circle cx="453.6" cy="266.9" r="0.8"/>
<circle cx="442.7" cy="281.9" r="0.8"/>
<circle cx="442.5" cy="278.9" r="0.8"/>
<circle cx="436.9" cy="290.9" r="0.8"/>
<circle cx="437.4" cy="280.0" r="0.8"/>
<circle cx="425.0" cy="291.9" r="0.8"/>
<circle cx="438.9" cy="281.6" r="0.8"/>
<circle cx="427.7" cy="293.8" r="0.8"/>
<circle cx="437.2" cy="279.1" r="0.8"/>
<circle cx="433.3" cy="284.6" r="0.8"/>
<circle cx="440.6" cy="286.9" r="0.8"/>
<circle cx="445.3" cy="268.4" r="0.8"/>
<circle cx="406.9" cy="253.6" r="0.8"/>
<circle cx="375.9" cy="258.2" r="0.8"/>
<circle cx="383.6" cy="194.6" r="0.8"/>
<circle cx="407.1" cy="225.3" r="0.8"/>
<circle cx="395.8" cy="243.7" r="0.8"/>
<circle cx="365.9" cy="258.8" r="0.8"/>
<circle cx="401.0" cy="193.2" r="0.8"/>
<circle cx="394.8" cy="262.3" r="0.8"/>
<circle cx="358.7" cy="268.4" r="0.8"/>
<circle cx="364.4" cy="193.6" r="0.8"/>
<circle cx="401.6" cy="226.2" r="0.8"/>
<circle cx="403.6" cy="193.6" r="0.8"/>
<circle cx="370.9" cy="208.1" r="0.8"/>
<circle cx="366.4" cy="250.8" r="0.8"/>
<circle cx="376.2" cy="235.1" r="0.8"/>
<circle cx="388.0" cy="208.4" r="0.8"/>
<circle cx="395.0" cy="264.5" r="0.8"/>
<circle cx="404.1" cy="207.6" r="0.8"/>
<circle cx="400.4" cy="262.7" r="0.8"/>
<circle cx="406.9" cy="260.3" r="0.8"/>
<circle cx="402.7" cy="244.8" r="0.8"/>
<circle cx="407.9" cy="269.7" r="0.8"/>
<circle cx="405.9" cy="203.7" r="0.8"/>
<circle cx="372.8" cy="247.6" r="0.8"/>
<circle cx="365.9" cy="270.7" r="0.8"/>
<circle cx="384.9" cy="222.2" r="0.8"/>
<circle cx="404.6" cy="230.0" r="0.8"/>
<circle cx="380.1" cy="255.1" r="0.8"/>
<circle cx="396.7" cy="281.8" r="0.8"/>
<circle cx="388.1" cy="205.4" r="0.8"/>
<circle cx="359.0" cy="199.3" r="0.8"/>
<circle cx="384.5" cy="271.3" r="0.8"/>
<circle cx="361.9" cy="251.0" r="0.8"/>
<circle cx="434.9" cy="193.0" r="0.8"/>
<circle cx="426.3" cy="243.2" r="0.8"/>
<circle cx="454.4" cy="272.4" r="0.8"/>
<circle cx="429.3" cy="257.1" r="0.8"/>
<circle cx="437.9" cy="267.4" r="0.8"/>
<circle cx="447.4" cy="191.1" r="0.8"/>
<circle cx="436.7" cy="250.2" r="0.8"/>
<circle cx="449.5" cy="195.9" r="0.8"/>
<circle cx="449.3" cy="270.4" r="0.8"/>
<circle cx="425.4" cy="230.0" r="0.8"/>
<circle cx="458.3" cy="205.1" r="0.8"/>
<circle cx="446.1" cy="219.5" r="0.8"/>
<circle cx="469.2" cy="211.3" r="0.8"/>
<circle cx="469.1" cy="238.3" r="0.8"/>
<circle cx="430.1" cy="279.0" r="0.8"/>
<circle cx="426.3" cy="257.5" r="0.8"/>
<circle cx="446.2" cy="250.5" r="0.8"/>
<circle cx="471.6" cy="223.5" r="0.8"/>
<circle cx="463.6" cy="200.9" r="0.8"/>
<circle cx="464.1" cy="210.6" r="0.8"/>
<circle cx="454.4" cy="237.0" r="0.8"/>
<circle cx="426.8" cy="282.4" r="0.8"/>
<circle cx="470.0" cy="269.5" r="0.8"/>
<circle cx="449.2" cy="204.0" r="0.8"/>
<circle cx="451.7" cy="221.7" r="0.8"/>
<circle cx="461.7" cy="265.9" r="0.8"/>
<circle cx="447.1" cy="201.8" r="0.8"/>
<circle cx="431.8" cy="272.6" r="0.8"/>
</g>
<line x1="409.10" y1="197.00" x2="409.10" y2="303.10" stroke="#3a3a3a" stroke-width="1.3" stroke-dasharray="5.9,2.3"/>
<line x1="422.50" y1="197.00" x2="422.50" y2="303.10" stroke="#3a3a3a" stroke-width="1.3" stroke-dasharray="5.9,2.3"/>
<line x1="345.00" y1="303.10" x2="511.30" y2="303.10" stroke="#555" stroke-width="1.4" stroke-dasharray="5.8,2.4"/>
<line x1="343.60" y1="185.30" x2="343.60" y2="308.80" stroke="#1a1a1a" stroke-width="1.2" />
<line x1="343.00" y1="308.20" x2="511.30" y2="308.20" stroke="#1a1a1a" stroke-width="1.2" />
<line x1="340.60" y1="304.60" x2="343.60" y2="304.60" stroke="#1a1a1a" stroke-width="1" />
<text x="0" y="0" transform="translate(337.50 307.60) scale(0.88 1)" font-size="8.6" fill="#222" text-anchor="end" >0</text>
<line x1="340.60" y1="274.84" x2="343.60" y2="274.84" stroke="#1a1a1a" stroke-width="1" />
<text x="0" y="0" transform="translate(337.50 277.84) scale(0.88 1)" font-size="8.6" fill="#222" text-anchor="end" >20</text>
<line x1="340.60" y1="245.08" x2="343.60" y2="245.08" stroke="#1a1a1a" stroke-width="1" />
<text x="0" y="0" transform="translate(337.50 248.08) scale(0.88 1)" font-size="8.6" fill="#222" text-anchor="end" >40</text>
<line x1="340.60" y1="215.32" x2="343.60" y2="215.32" stroke="#1a1a1a" stroke-width="1" />
<text x="0" y="0" transform="translate(337.50 218.32) scale(0.88 1)" font-size="8.6" fill="#222" text-anchor="end" >60</text>
<line x1="349.80" y1="308.20" x2="349.80" y2="311.00" stroke="#1a1a1a" stroke-width="1" />
<text x="0" y="0" transform="translate(349.80 320.40) scale(0.88 1)" font-size="8.6" fill="#222" text-anchor="middle" >−2</text>
<line x1="382.70" y1="308.20" x2="382.70" y2="311.00" stroke="#1a1a1a" stroke-width="1" />
<text x="0" y="0" transform="translate(382.70 320.40) scale(0.88 1)" font-size="8.6" fill="#222" text-anchor="middle" >−1</text>
<line x1="415.60" y1="308.20" x2="415.60" y2="311.00" stroke="#1a1a1a" stroke-width="1" />
<text x="0" y="0" transform="translate(415.60 320.40) scale(0.88 1)" font-size="8.6" fill="#222" text-anchor="middle" >0</text>
<line x1="448.50" y1="308.20" x2="448.50" y2="311.00" stroke="#1a1a1a" stroke-width="1" />
<text x="0" y="0" transform="translate(448.50 320.40) scale(0.88 1)" font-size="8.6" fill="#222" text-anchor="middle" >1</text>
<line x1="481.40" y1="308.20" x2="481.40" y2="311.00" stroke="#1a1a1a" stroke-width="1" />
<text x="0" y="0" transform="translate(481.40 320.40) scale(0.88 1)" font-size="8.6" fill="#222" text-anchor="middle" >2</text>
<circle cx="375.10" cy="205.80" r="2.1" fill="#c8102e"/>
<circle cx="370.80" cy="243.00" r="2.1" fill="#c8102e"/>
<circle cx="365.10" cy="254.50" r="2.1" fill="#c8102e"/>
<circle cx="372.30" cy="259.80" r="2.1" fill="#c8102e"/>
<circle cx="396.90" cy="289.20" r="2.1" fill="#c8102e"/>
<circle cx="401.20" cy="298.50" r="2.1" fill="#c8102e"/>
<circle cx="389.50" cy="298.90" r="2.1" fill="#c8102e"/>
<circle cx="453.50" cy="246.10" r="2.1" fill="#0d4a8a"/>
<circle cx="461.50" cy="242.20" r="2.1" fill="#0d4a8a"/>
<circle cx="441.80" cy="272.60" r="2.1" fill="#0d4a8a"/>
<circle cx="452.60" cy="281.10" r="2.1" fill="#0d4a8a"/>
<circle cx="403.10" cy="302.00" r="2.1" fill="#3cb44b"/>
<circle cx="405.80" cy="300.80" r="2.1" fill="#3cb44b"/>
<circle cx="404.50" cy="301.50" r="2.1" fill="#3cb44b"/>
<text x="0" y="0" transform="translate(352.00 203.20)" font-size="6.0" fill="#1a1a1a" textLength="21.00" lengthAdjust="spacingAndGlyphs" style="stroke:#1a1a1a;stroke-width:0.15px">CNRIP1</text>
<text x="0" y="0" transform="translate(358.20 238.50)" font-size="6.0" fill="#1a1a1a" textLength="14.10" lengthAdjust="spacingAndGlyphs" style="stroke:#1a1a1a;stroke-width:0.15px">KLF1</text>
<text x="0" y="0" transform="translate(346.90 253.80)" font-size="6.0" fill="#1a1a1a" textLength="13.10" lengthAdjust="spacingAndGlyphs" style="stroke:#1a1a1a;stroke-width:0.15px">MYC</text>
<text x="0" y="0" transform="translate(351.00 267.20)" font-size="6.0" fill="#1a1a1a" textLength="19.50" lengthAdjust="spacingAndGlyphs" style="stroke:#1a1a1a;stroke-width:0.15px">CASP3</text>
<text x="0" y="0" transform="translate(385.70 285.70)" font-size="6.0" fill="#1a1a1a" textLength="17.30" lengthAdjust="spacingAndGlyphs" style="stroke:#1a1a1a;stroke-width:0.15px">GATA1</text>
<text x="0" y="0" transform="translate(374.20 295.70)" font-size="6.0" fill="#1a1a1a" textLength="32.00" lengthAdjust="spacingAndGlyphs" style="stroke:#1a1a1a;stroke-width:0.15px">TFRC/NFE2</text>
<text x="0" y="0" transform="translate(370.80 301.00)" font-size="6.0" fill="#1a1a1a" textLength="16.20" lengthAdjust="spacingAndGlyphs" style="stroke:#1a1a1a;stroke-width:0.15px">APOE</text>
<text x="0" y="0" transform="translate(377.00 307.20)" font-size="6.0" fill="#1a1a1a" textLength="24.00" lengthAdjust="spacingAndGlyphs" style="stroke:#1a1a1a;stroke-width:0.15px">CDKN2C</text>
<text x="0" y="0" transform="translate(408.20 300.80)" font-size="6.0" fill="#1a1a1a" textLength="21.00" lengthAdjust="spacingAndGlyphs" style="stroke:#1a1a1a;stroke-width:0.15px">CCND2</text>
<text x="0" y="0" transform="translate(407.70 306.60)" font-size="6.0" fill="#1a1a1a" textLength="14.80" lengthAdjust="spacingAndGlyphs" style="stroke:#1a1a1a;stroke-width:0.15px">CDK6</text>
<text x="0" y="0" transform="translate(440.80 242.20)" font-size="6.0" fill="#1a1a1a" textLength="12.30" lengthAdjust="spacingAndGlyphs" style="stroke:#1a1a1a;stroke-width:0.15px">FOS</text>
<text x="0" y="0" transform="translate(463.80 248.40)" font-size="6.0" fill="#1a1a1a" textLength="16.20" lengthAdjust="spacingAndGlyphs" style="stroke:#1a1a1a;stroke-width:0.15px">FOSB</text>
<text x="0" y="0" transform="translate(444.60 271.50)" font-size="6.0" fill="#1a1a1a" textLength="10.50" lengthAdjust="spacingAndGlyphs" style="stroke:#1a1a1a;stroke-width:0.15px">JUN</text>
<text x="0" y="0" transform="translate(453.10 288.20)" font-size="6.0" fill="#1a1a1a" textLength="15.10" lengthAdjust="spacingAndGlyphs" style="stroke:#1a1a1a;stroke-width:0.15px">JUNB</text>
<circle cx="352.80" cy="178.40" r="2.3" fill="#0d4a8a"/>
<text x="0" y="0" transform="translate(358.80 180.90)" font-size="8.4" fill="#222" textLength="31.50" lengthAdjust="spacingAndGlyphs" >AP-1 TFs</text>
<circle cx="409.20" cy="178.40" r="2.3" fill="#3cb44b"/>
<text x="0" y="0" transform="translate(415.00 180.90)" font-size="8.4" fill="#222" textLength="33.50" lengthAdjust="spacingAndGlyphs" >Cell cycle</text>
<circle cx="461.80" cy="178.40" r="2.3" fill="#c8102e"/>
<text x="0" y="0" transform="translate(467.40 180.90)" font-size="8.4" fill="#222" textLength="41.10" lengthAdjust="spacingAndGlyphs" >Ery-priming</text>
<text x="0" y="0" transform="translate(320.40 246.40) rotate(-90)" font-size="8.8" fill="#222" text-anchor="middle" textLength="48.80" lengthAdjust="spacingAndGlyphs" >-log10 p-value</text>
<text x="0" y="0" transform="translate(398.80 333.90)" font-size="10.4" fill="#222" textLength="57.20" lengthAdjust="spacingAndGlyphs" style="stroke:#222;stroke-width:0.2px">Log2 fold change</text>
<line x1="347.00" y1="343.10" x2="508.00" y2="343.10" stroke="#111" stroke-width="1.3" />
<path d="M343.8,343.1 L349.5,340.4 L349.5,345.8 Z" fill="#111"/>
<path d="M511.4,343.1 L505.7,340.4 L505.7,345.8 Z" fill="#111"/>
<line x1="416.00" y1="339.60" x2="416.00" y2="346.40" stroke="#111" stroke-width="1" />
<text x="0" y="0" transform="translate(343.10 356.00)" font-size="8.8" fill="#222" textLength="28.80" lengthAdjust="spacingAndGlyphs" >Down in</text>
<text x="0" y="0" transform="translate(348.30 365.60)" font-size="8.8" fill="#222" textLength="18.70" lengthAdjust="spacingAndGlyphs" >&gt;60 y</text>
<text x="0" y="0" transform="translate(457.90 356.00)" font-size="8.8" fill="#222" textLength="18.30" lengthAdjust="spacingAndGlyphs" >Up in</text>
<text x="0" y="0" transform="translate(457.50 365.60)" font-size="8.8" fill="#222" textLength="19.20" lengthAdjust="spacingAndGlyphs" >&gt;60 y</text>
<line x1="50.80" y1="398.80" x2="50.80" y2="515.80" stroke="#1a1a1a" stroke-width="1.2" />
<line x1="50.00" y1="515.20" x2="120.80" y2="515.20" stroke="#1a1a1a" stroke-width="1.2" />
<line x1="47.60" y1="515.20" x2="50.80" y2="515.20" stroke="#1a1a1a" stroke-width="1" />
<text x="0" y="0" transform="translate(44.20 518.20) scale(0.88 1)" font-size="8.6" fill="#222" text-anchor="end" >0</text>
<line x1="49.00" y1="503.92" x2="50.80" y2="503.92" stroke="#1a1a1a" stroke-width="1" />
<line x1="47.60" y1="492.64" x2="50.80" y2="492.64" stroke="#1a1a1a" stroke-width="1" />
<text x="0" y="0" transform="translate(44.20 495.64) scale(0.88 1)" font-size="8.6" fill="#222" text-anchor="end" >20</text>
<line x1="49.00" y1="481.36" x2="50.80" y2="481.36" stroke="#1a1a1a" stroke-width="1" />
<line x1="47.60" y1="470.08" x2="50.80" y2="470.08" stroke="#1a1a1a" stroke-width="1" />
<text x="0" y="0" transform="translate(44.20 473.08) scale(0.88 1)" font-size="8.6" fill="#222" text-anchor="end" >40</text>
<line x1="49.00" y1="458.80" x2="50.80" y2="458.80" stroke="#1a1a1a" stroke-width="1" />
<line x1="47.60" y1="447.52" x2="50.80" y2="447.52" stroke="#1a1a1a" stroke-width="1" />
<text x="0" y="0" transform="translate(44.20 450.52) scale(0.88 1)" font-size="8.6" fill="#222" text-anchor="end" >60</text>
<line x1="49.00" y1="436.24" x2="50.80" y2="436.24" stroke="#1a1a1a" stroke-width="1" />
<line x1="47.60" y1="424.96" x2="50.80" y2="424.96" stroke="#1a1a1a" stroke-width="1" />
<text x="0" y="0" transform="translate(44.20 427.96) scale(0.88 1)" font-size="8.6" fill="#222" text-anchor="end" >80</text>
<line x1="49.00" y1="413.68" x2="50.80" y2="413.68" stroke="#1a1a1a" stroke-width="1" />
<line x1="47.60" y1="402.40" x2="50.80" y2="402.40" stroke="#1a1a1a" stroke-width="1" />
<text x="0" y="0" transform="translate(44.20 405.40) scale(0.88 1)" font-size="8.6" fill="#222" text-anchor="end" >100</text>
<rect x="61.25" y="402.75" width="18.75" height="2.85" fill="#000000" />
<rect x="61.25" y="405.60" width="18.75" height="0.70" fill="#0d87ff" />
<rect x="61.25" y="406.30" width="18.75" height="3.45" fill="#0f9393" />
<rect x="61.25" y="409.75" width="18.75" height="23.00" fill="#008a00" />
<rect x="61.25" y="432.75" width="18.75" height="0.55" fill="#b010b8" />
<rect x="61.25" y="433.30" width="18.75" height="20.45" fill="#da85f8" />
<rect x="61.25" y="453.75" width="18.75" height="12.25" fill="#ff8c00" />
<rect x="61.25" y="466.00" width="18.75" height="1.50" fill="#ffd27f" />
<rect x="61.25" y="467.50" width="18.75" height="47.70" fill="#ff2600" />
<rect x="91.25" y="402.75" width="18.75" height="6.00" fill="#000000" />
<rect x="91.25" y="408.75" width="18.75" height="7.25" fill="#0f9393" />
<rect x="91.25" y="416.00" width="18.75" height="30.90" fill="#008a00" />
<rect x="91.25" y="446.90" width="18.75" height="1.70" fill="#b010b8" />
<rect x="91.25" y="448.60" width="18.75" height="22.00" fill="#da85f8" />
<rect x="91.25" y="470.60" width="18.75" height="17.50" fill="#ff8c00" />
<rect x="91.25" y="488.10" width="18.75" height="2.80" fill="#ffd27f" />
<rect x="91.25" y="490.90" width="18.75" height="24.30" fill="#ff2600" />
<line x1="70.60" y1="400.25" x2="70.60" y2="410.60" stroke="#111" stroke-width="1.1" />
<line x1="68.40" y1="400.25" x2="72.80" y2="400.25" stroke="#111" stroke-width="1.1" />
<line x1="70.60" y1="426.25" x2="70.60" y2="433.75" stroke="#111" stroke-width="1.1" />
<line x1="68.40" y1="426.25" x2="72.80" y2="426.25" stroke="#111" stroke-width="1.1" />
<line x1="68.40" y1="431.25" x2="72.80" y2="431.25" stroke="#111" stroke-width="1.1" />
<line x1="70.60" y1="448.50" x2="70.60" y2="453.75" stroke="#111" stroke-width="1.1" />
<line x1="68.40" y1="448.50" x2="72.80" y2="448.50" stroke="#111" stroke-width="1.1" />
<line x1="70.60" y1="459.40" x2="70.60" y2="467.50" stroke="#111" stroke-width="1.1" />
<line x1="68.40" y1="459.40" x2="72.80" y2="459.40" stroke="#111" stroke-width="1.1" />
<line x1="68.40" y1="464.75" x2="72.80" y2="464.75" stroke="#111" stroke-width="1.1" />
<line x1="100.60" y1="399.75" x2="100.60" y2="416.50" stroke="#111" stroke-width="1.1" />
<line x1="98.40" y1="399.75" x2="102.80" y2="399.75" stroke="#111" stroke-width="1.1" />
<line x1="98.40" y1="402.25" x2="102.80" y2="402.25" stroke="#111" stroke-width="1.1" />
<line x1="100.60" y1="443.50" x2="100.60" y2="448.75" stroke="#111" stroke-width="1.1" />
<line x1="98.40" y1="443.50" x2="102.80" y2="443.50" stroke="#111" stroke-width="1.1" />
<line x1="98.40" y1="445.00" x2="102.80" y2="445.00" stroke="#111" stroke-width="1.1" />
<line x1="100.60" y1="458.75" x2="100.60" y2="470.60" stroke="#111" stroke-width="1.1" />
<line x1="98.40" y1="458.75" x2="102.80" y2="458.75" stroke="#111" stroke-width="1.1" />
<line x1="100.60" y1="483.10" x2="100.60" y2="490.90" stroke="#111" stroke-width="1.1" />
<line x1="98.40" y1="483.10" x2="102.80" y2="483.10" stroke="#111" stroke-width="1.1" />
<line x1="98.40" y1="485.90" x2="102.80" y2="485.90" stroke="#111" stroke-width="1.1" />
<line x1="70.60" y1="515.20" x2="70.60" y2="518.00" stroke="#1a1a1a" stroke-width="1" />
<line x1="100.60" y1="515.20" x2="100.60" y2="518.00" stroke="#1a1a1a" stroke-width="1" />
<line x1="70.60" y1="483.10" x2="100.00" y2="505.60" stroke="#222" stroke-width="0.8" />
<line x1="100.00" y1="505.60" x2="113.80" y2="505.60" stroke="#1a1a1a" stroke-width="1.0" stroke-dasharray="1,1"/>
<text x="0" y="0" transform="translate(117.50 508.00)" font-size="8.8" fill="#222" textLength="30.00" lengthAdjust="spacingAndGlyphs" >p=0.016</text>
<rect x="153.80" y="407.30" width="8.60" height="4.70" fill="#000000" />
<text x="0" y="0" transform="translate(165.40 412.10) scale(0.92 1)" font-size="8.4" fill="#222" >Undiff</text>
<rect x="153.70" y="417.57" width="8.9" height="5.2" fill="#fff" stroke="#333" stroke-width="0.8"/>
<text x="0" y="0" transform="translate(165.40 422.52) scale(0.92 1)" font-size="8.4" fill="#222" >EryMegMyNK</text>
<rect x="153.80" y="428.14" width="8.60" height="4.70" fill="#0d87ff" />
<text x="0" y="0" transform="translate(165.40 432.94) scale(0.92 1)" font-size="8.4" fill="#222" >NK</text>
<rect x="153.80" y="438.56" width="8.60" height="4.70" fill="#0f9393" />
<text x="0" y="0" transform="translate(165.40 443.36) scale(0.92 1)" font-size="8.4" fill="#222" >MyNK</text>
<rect x="153.80" y="448.98" width="8.60" height="4.70" fill="#008a00" />
<text x="0" y="0" transform="translate(165.40 453.78) scale(0.92 1)" font-size="8.4" fill="#222" >My</text>
<rect x="153.80" y="459.40" width="8.60" height="4.70" fill="#8b0a4f" />
<text x="0" y="0" transform="translate(165.40 464.20) scale(0.92 1)" font-size="8.4" fill="#222" >EryMyNK</text>
<rect x="153.80" y="469.82" width="8.60" height="4.70" fill="#c42ad4" />
<text x="0" y="0" transform="translate(165.40 474.62) scale(0.92 1)" font-size="8.4" fill="#222" >EryMegMy</text>
<rect x="153.80" y="480.24" width="8.60" height="4.70" fill="#da85f8" />
<text x="0" y="0" transform="translate(165.40 485.04) scale(0.92 1)" font-size="8.4" fill="#222" >EryMy</text>
<rect x="153.80" y="490.66" width="8.60" height="4.70" fill="#ff8c00" />
<text x="0" y="0" transform="translate(165.40 495.46) scale(0.92 1)" font-size="8.4" fill="#222" >EryMeg</text>
<rect x="153.80" y="501.08" width="8.60" height="4.70" fill="#ffd27f" />
<text x="0" y="0" transform="translate(165.40 505.88) scale(0.92 1)" font-size="8.4" fill="#222" >Meg</text>
<rect x="153.80" y="511.50" width="8.60" height="4.70" fill="#ff2600" />
<text x="0" y="0" transform="translate(165.40 516.30) scale(0.92 1)" font-size="8.4" fill="#222" >Ery</text>
<text x="0" y="0" transform="translate(24.60 456.70) rotate(-90)" font-size="9.2" fill="#222" text-anchor="middle" textLength="41.30" lengthAdjust="spacingAndGlyphs" >Colonies [%]</text>
<text x="0" y="0" transform="translate(74.80 524.50) rotate(-45) scale(0.9 1)" font-size="8.6" fill="#222" text-anchor="end" >Healthy PB</text>
<text x="0" y="0" transform="translate(105.20 524.50) rotate(-45) scale(0.9 1)" font-size="8.6" fill="#222" text-anchor="end" >ET PB</text>
<line x1="343.80" y1="398.80" x2="343.80" y2="515.60" stroke="#1a1a1a" stroke-width="1.2" />
<line x1="342.50" y1="515.00" x2="413.40" y2="515.00" stroke="#1a1a1a" stroke-width="1.2" />
<line x1="340.60" y1="515.00" x2="343.80" y2="515.00" stroke="#1a1a1a" stroke-width="1" />
<text x="0" y="0" transform="translate(338.30 518.00) scale(0.88 1)" font-size="8.6" fill="#222" text-anchor="end" >0</text>
<line x1="342.00" y1="503.74" x2="343.80" y2="503.74" stroke="#1a1a1a" stroke-width="1" />
<line x1="340.60" y1="492.48" x2="343.80" y2="492.48" stroke="#1a1a1a" stroke-width="1" />
<text x="0" y="0" transform="translate(338.30 495.48) scale(0.88 1)" font-size="8.6" fill="#222" text-anchor="end" >20</text>
<line x1="342.00" y1="481.22" x2="343.80" y2="481.22" stroke="#1a1a1a" stroke-width="1" />
<line x1="340.60" y1="469.96" x2="343.80" y2="469.96" stroke="#1a1a1a" stroke-width="1" />
<text x="0" y="0" transform="translate(338.30 472.96) scale(0.88 1)" font-size="8.6" fill="#222" text-anchor="end" >40</text>
<line x1="342.00" y1="458.70" x2="343.80" y2="458.70" stroke="#1a1a1a" stroke-width="1" />
<line x1="340.60" y1="447.44" x2="343.80" y2="447.44" stroke="#1a1a1a" stroke-width="1" />
<text x="0" y="0" transform="translate(338.30 450.44) scale(0.88 1)" font-size="8.6" fill="#222" text-anchor="end" >60</text>
<line x1="342.00" y1="436.18" x2="343.80" y2="436.18" stroke="#1a1a1a" stroke-width="1" />
<line x1="340.60" y1="424.92" x2="343.80" y2="424.92" stroke="#1a1a1a" stroke-width="1" />
<text x="0" y="0" transform="translate(338.30 427.92) scale(0.88 1)" font-size="8.6" fill="#222" text-anchor="end" >80</text>
<line x1="342.00" y1="413.66" x2="343.80" y2="413.66" stroke="#1a1a1a" stroke-width="1" />
<line x1="340.60" y1="402.40" x2="343.80" y2="402.40" stroke="#1a1a1a" stroke-width="1" />
<text x="0" y="0" transform="translate(338.30 405.40) scale(0.88 1)" font-size="8.6" fill="#222" text-anchor="end" >100</text>
<rect x="354.20" y="402.30" width="18.90" height="4.60" fill="#000000" />
<rect x="354.20" y="406.90" width="18.90" height="3.60" fill="#0f9393" />
<rect x="354.20" y="410.50" width="18.90" height="23.00" fill="#008a00" />
<rect x="354.20" y="433.40" width="18.90" height="1.00" fill="#b010b8" />
<rect x="354.20" y="434.40" width="18.90" height="20.20" fill="#da85f8" />
<rect x="354.20" y="454.60" width="18.90" height="12.30" fill="#ff8c00" />
<rect x="354.20" y="466.90" width="18.90" height="1.60" fill="#ffd27f" />
<rect x="354.20" y="468.50" width="18.90" height="46.50" fill="#ff2600" />
<rect x="384.20" y="402.60" width="18.90" height="8.50" fill="#000000" />
<rect x="384.20" y="411.10" width="18.90" height="1.70" fill="#0f9393" />
<rect x="384.20" y="412.80" width="18.90" height="41.50" fill="#008a00" />
<rect x="384.20" y="454.20" width="18.90" height="1.60" fill="#b010b8" />
<rect x="384.20" y="455.80" width="18.90" height="20.40" fill="#da85f8" />
<rect x="384.20" y="476.20" width="18.90" height="3.00" fill="#ff8c00" />
<rect x="384.20" y="479.20" width="18.90" height="1.60" fill="#ffd27f" />
<rect x="384.20" y="480.80" width="18.90" height="34.20" fill="#ff2600" />
<line x1="363.60" y1="400.50" x2="363.60" y2="410.00" stroke="#111" stroke-width="1.1" />
<line x1="361.40" y1="400.50" x2="365.80" y2="400.50" stroke="#111" stroke-width="1.1" />
<line x1="363.60" y1="426.50" x2="363.60" y2="433.50" stroke="#111" stroke-width="1.1" />
<line x1="361.40" y1="426.50" x2="365.80" y2="426.50" stroke="#111" stroke-width="1.1" />
<line x1="361.40" y1="431.20" x2="365.80" y2="431.20" stroke="#111" stroke-width="1.1" />
<line x1="363.60" y1="448.50" x2="363.60" y2="454.60" stroke="#111" stroke-width="1.1" />
<line x1="361.40" y1="448.50" x2="365.80" y2="448.50" stroke="#111" stroke-width="1.1" />
<line x1="363.60" y1="460.00" x2="363.60" y2="467.00" stroke="#111" stroke-width="1.1" />
<line x1="361.40" y1="460.00" x2="365.80" y2="460.00" stroke="#111" stroke-width="1.1" />
<line x1="361.40" y1="464.60" x2="365.80" y2="464.60" stroke="#111" stroke-width="1.1" />
<line x1="393.60" y1="401.50" x2="393.60" y2="412.80" stroke="#111" stroke-width="1.1" />
<line x1="391.40" y1="401.50" x2="395.80" y2="401.50" stroke="#111" stroke-width="1.1" />
<line x1="393.60" y1="444.90" x2="393.60" y2="453.80" stroke="#111" stroke-width="1.1" />
<line x1="391.40" y1="444.90" x2="395.80" y2="444.90" stroke="#111" stroke-width="1.1" />
<line x1="391.40" y1="453.80" x2="395.80" y2="453.80" stroke="#111" stroke-width="1.1" />
<line x1="393.60" y1="472.30" x2="393.60" y2="480.00" stroke="#111" stroke-width="1.1" />
<line x1="391.40" y1="472.30" x2="395.80" y2="472.30" stroke="#111" stroke-width="1.1" />
<line x1="391.40" y1="474.20" x2="395.80" y2="474.20" stroke="#111" stroke-width="1.1" />
<line x1="391.40" y1="477.70" x2="395.80" y2="477.70" stroke="#111" stroke-width="1.1" />
<line x1="363.60" y1="515.00" x2="363.60" y2="517.80" stroke="#1a1a1a" stroke-width="1" />
<line x1="393.60" y1="515.00" x2="393.60" y2="517.80" stroke="#1a1a1a" stroke-width="1" />
<line x1="373.10" y1="404.90" x2="384.20" y2="406.90" stroke="#1a1a1a" stroke-width="1.0" stroke-dasharray="1,1"/>
<line x1="403.10" y1="408.00" x2="411.50" y2="408.00" stroke="#1a1a1a" stroke-width="1.0" stroke-dasharray="1,1"/>
<text x="0" y="0" transform="translate(414.80 410.80)" font-size="8.8" fill="#222" textLength="29.60" lengthAdjust="spacingAndGlyphs" >p=0.036</text>
<line x1="363.10" y1="414.60" x2="393.80" y2="438.00" stroke="#222" stroke-width="0.8" />
<line x1="393.80" y1="438.00" x2="411.50" y2="438.00" stroke="#1a1a1a" stroke-width="1.0" stroke-dasharray="1,1"/>
<text x="0" y="0" transform="translate(414.80 440.80)" font-size="8.8" fill="#222" textLength="29.60" lengthAdjust="spacingAndGlyphs" >p=0.036</text>
<rect x="454.70" y="407.10" width="8.60" height="4.70" fill="#000000" />
<text x="0" y="0" transform="translate(466.10 411.90) scale(0.92 1)" font-size="8.4" fill="#222" >Undiff</text>
<rect x="454.60" y="417.37" width="8.9" height="5.2" fill="#fff" stroke="#333" stroke-width="0.8"/>
<text x="0" y="0" transform="translate(466.10 422.32) scale(0.92 1)" font-size="8.4" fill="#222" >EryMegMyNK</text>
<rect x="454.70" y="427.94" width="8.60" height="4.70" fill="#0d87ff" />
<text x="0" y="0" transform="translate(466.10 432.74) scale(0.92 1)" font-size="8.4" fill="#222" >NK</text>
<rect x="454.70" y="438.36" width="8.60" height="4.70" fill="#0f9393" />
<text x="0" y="0" transform="translate(466.10 443.16) scale(0.92 1)" font-size="8.4" fill="#222" >MyNK</text>
<rect x="454.70" y="448.78" width="8.60" height="4.70" fill="#008a00" />
<text x="0" y="0" transform="translate(466.10 453.58) scale(0.92 1)" font-size="8.4" fill="#222" >My</text>
<rect x="454.70" y="459.20" width="8.60" height="4.70" fill="#8b0a4f" />
<text x="0" y="0" transform="translate(466.10 464.00) scale(0.92 1)" font-size="8.4" fill="#222" >EryMyNK</text>
<rect x="454.70" y="469.62" width="8.60" height="4.70" fill="#c42ad4" />
<text x="0" y="0" transform="translate(466.10 474.42) scale(0.92 1)" font-size="8.4" fill="#222" >EryMegMy</text>
<rect x="454.70" y="480.04" width="8.60" height="4.70" fill="#da85f8" />
<text x="0" y="0" transform="translate(466.10 484.84) scale(0.92 1)" font-size="8.4" fill="#222" >EryMy</text>
<rect x="454.70" y="490.46" width="8.60" height="4.70" fill="#ff8c00" />
<text x="0" y="0" transform="translate(466.10 495.26) scale(0.92 1)" font-size="8.4" fill="#222" >EryMeg</text>
<rect x="454.70" y="500.88" width="8.60" height="4.70" fill="#ffd27f" />
<text x="0" y="0" transform="translate(466.10 505.68) scale(0.92 1)" font-size="8.4" fill="#222" >Meg</text>
<rect x="454.70" y="511.30" width="8.60" height="4.70" fill="#ff2600" />
<text x="0" y="0" transform="translate(466.10 516.10) scale(0.92 1)" font-size="8.4" fill="#222" >Ery</text>
<text x="0" y="0" transform="translate(317.90 456.70) rotate(-90)" font-size="9.2" fill="#222" text-anchor="middle" textLength="41.30" lengthAdjust="spacingAndGlyphs" >Colonies [%]</text>
<text x="0" y="0" transform="translate(367.70 524.50) rotate(-45) scale(0.9 1)" font-size="8.6" fill="#222" text-anchor="end" >Healthy PB</text>
<text x="0" y="0" transform="translate(397.80 524.50) rotate(-45) scale(0.9 1)" font-size="8.6" fill="#222" text-anchor="end" >b-thal PB</text>
<rect x="0.55" y="0.55" width="518.9" height="556.9" fill="none" stroke="#000" stroke-width="1.1"/>
</svg>
</body></html>
